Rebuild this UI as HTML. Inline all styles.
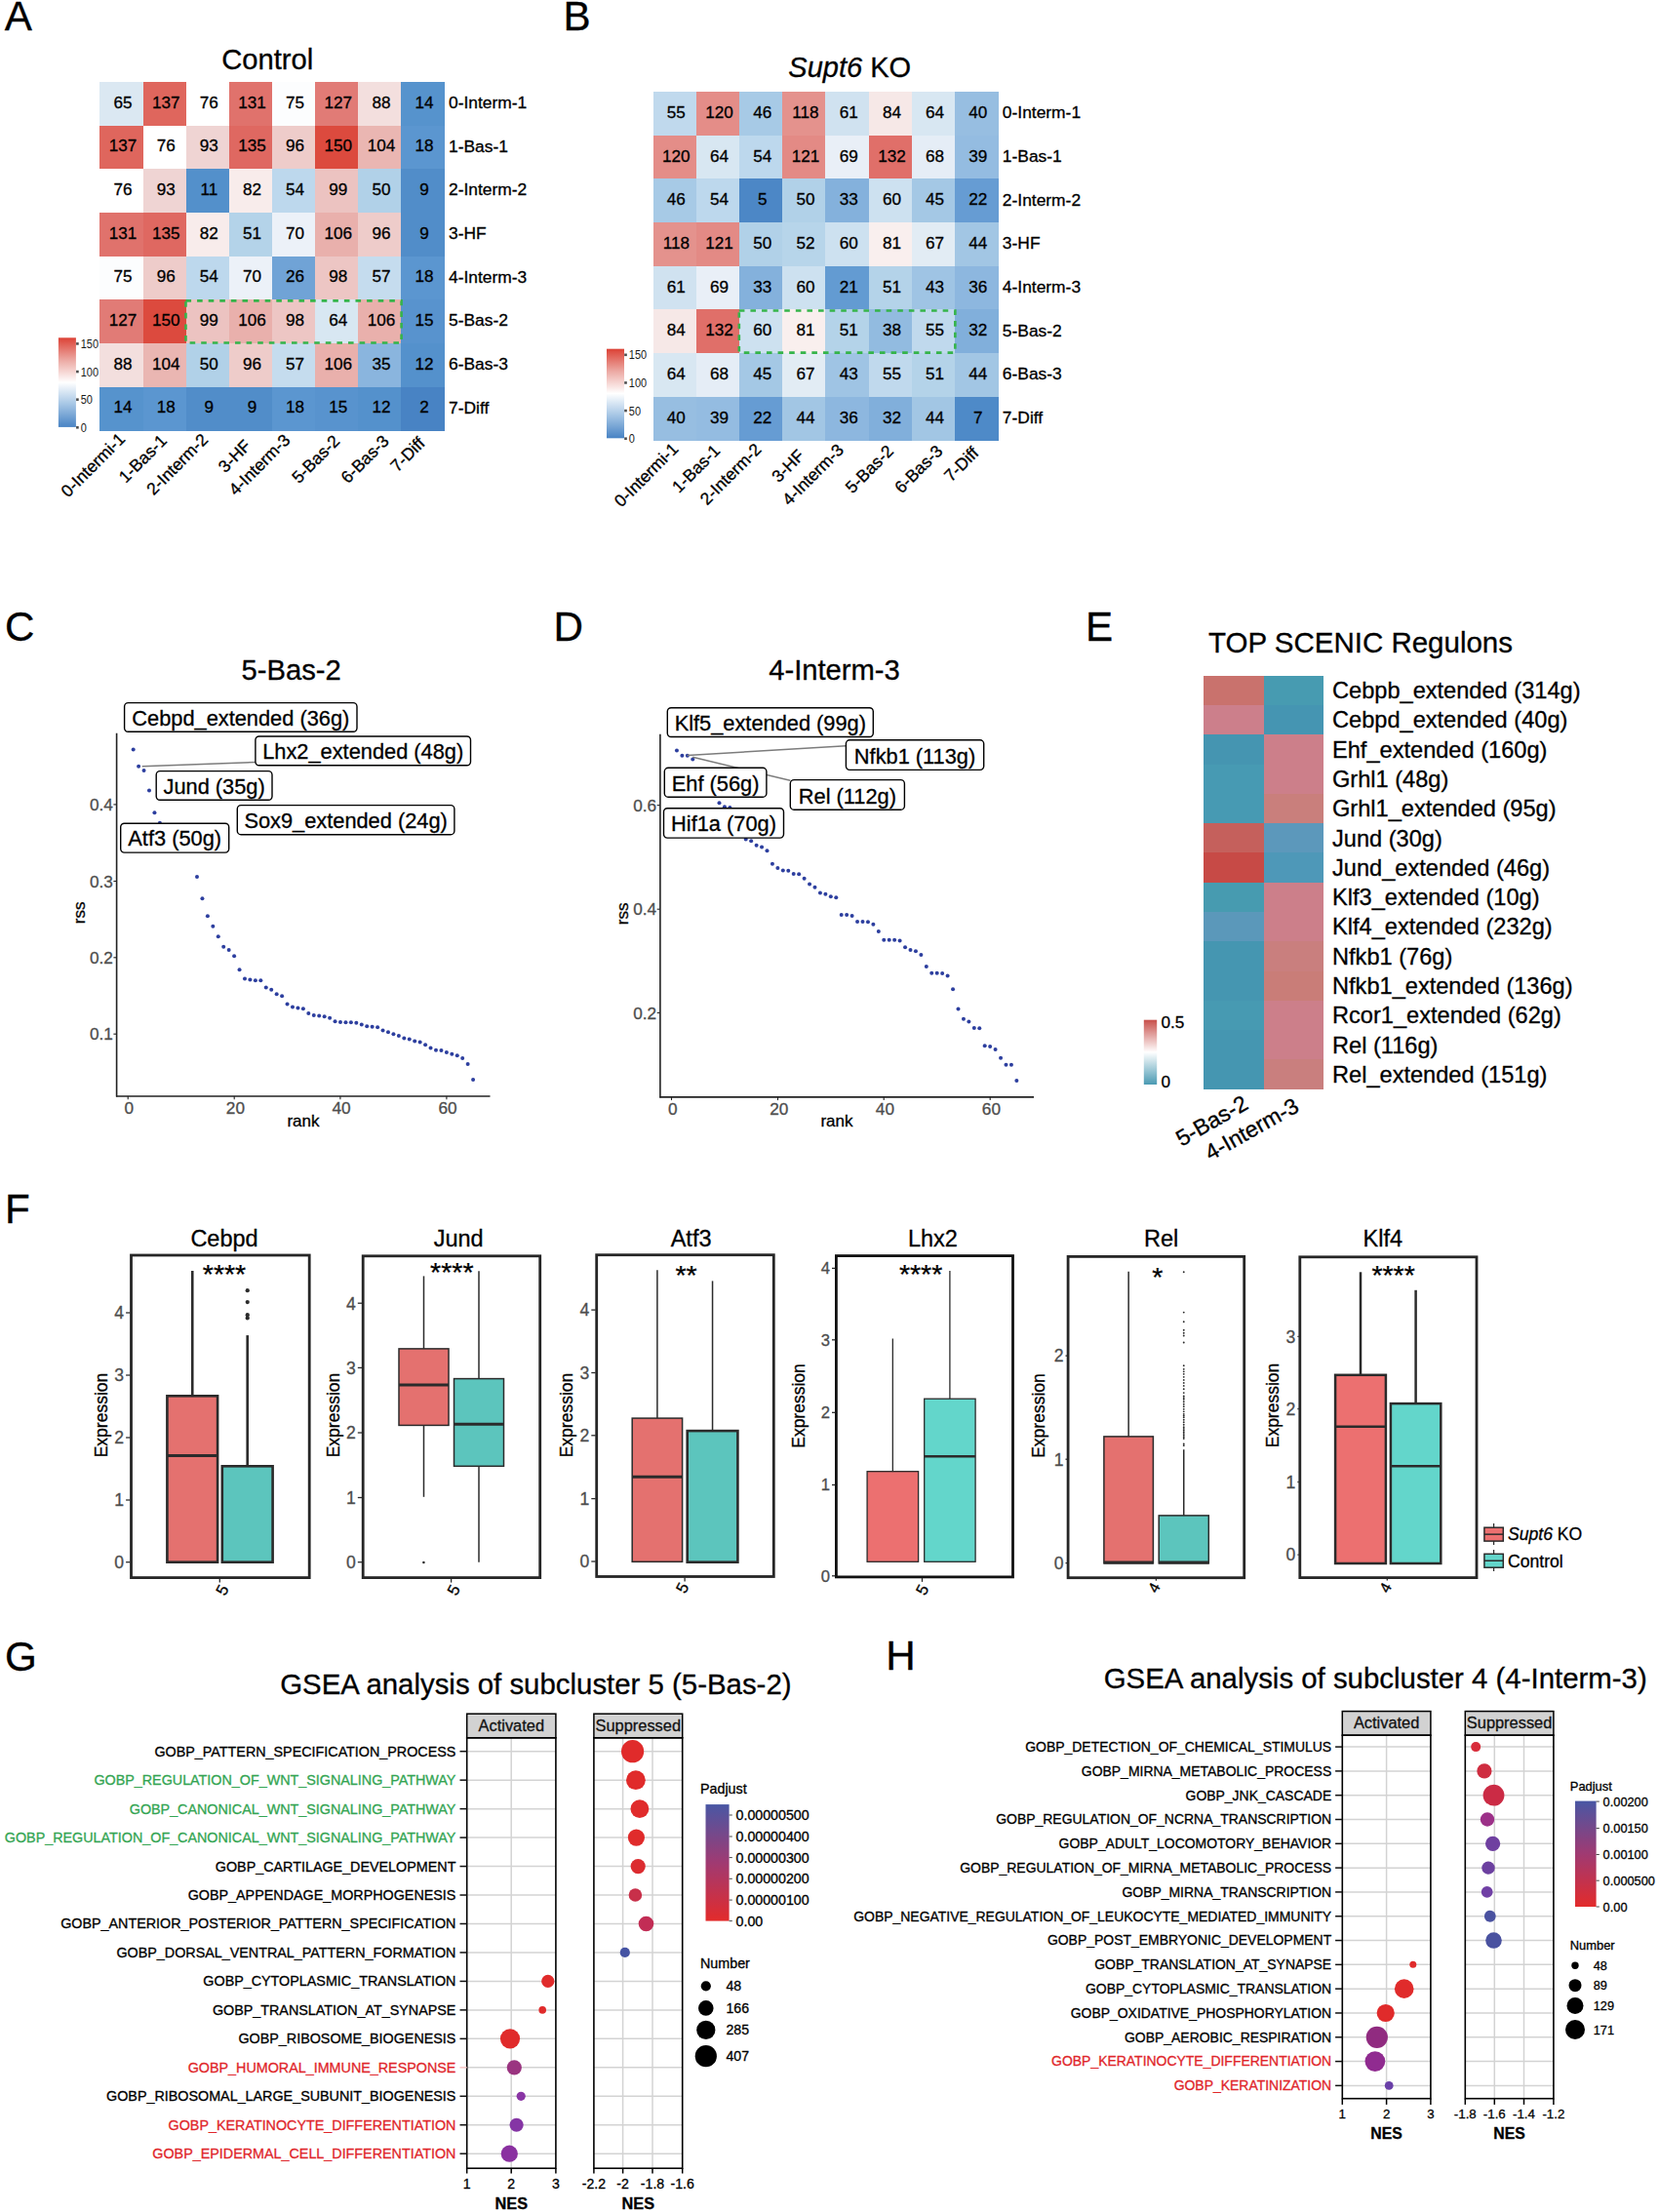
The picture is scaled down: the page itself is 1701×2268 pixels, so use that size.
<!DOCTYPE html>
<html><head><meta charset="utf-8"><title>Figure</title>
<style>html,body{margin:0;padding:0;background:#fff}svg{display:block}text{font-family:"Liberation Sans",Arial,sans-serif}</style>
</head><body>
<svg width="1701" height="2268" viewBox="0 0 1701 2268">
<rect width="1701" height="2268" fill="#fff"/>
<g shape-rendering="crispEdges">
<rect x="102.4" y="83.9" width="44.64" height="45.17" fill="#dbe8f2"/>
<rect x="146.54" y="83.9" width="44.64" height="45.17" fill="#df665d"/>
<rect x="190.68" y="83.9" width="44.64" height="45.17" fill="#ffffff"/>
<rect x="234.82" y="83.9" width="44.64" height="45.17" fill="#e0726c"/>
<rect x="278.96" y="83.9" width="44.64" height="45.17" fill="#fcfdfe"/>
<rect x="323.1" y="83.9" width="44.64" height="45.17" fill="#e17b76"/>
<rect x="367.24" y="83.9" width="44.64" height="45.17" fill="#f3dfde"/>
<rect x="411.38" y="83.9" width="44.64" height="45.17" fill="#5693cd"/>
<rect x="102.4" y="128.57" width="44.64" height="45.17" fill="#df665d"/>
<rect x="146.54" y="128.57" width="44.64" height="45.17" fill="#ffffff"/>
<rect x="190.68" y="128.57" width="44.64" height="45.17" fill="#efd4d3"/>
<rect x="234.82" y="128.57" width="44.64" height="45.17" fill="#df6861"/>
<rect x="278.96" y="128.57" width="44.64" height="45.17" fill="#eeccca"/>
<rect x="323.1" y="128.57" width="44.64" height="45.17" fill="#dc4a3e"/>
<rect x="367.24" y="128.57" width="44.64" height="45.17" fill="#eab6b2"/>
<rect x="411.38" y="128.57" width="44.64" height="45.17" fill="#5b96d0"/>
<rect x="102.4" y="173.24" width="44.64" height="45.17" fill="#ffffff"/>
<rect x="146.54" y="173.24" width="44.64" height="45.17" fill="#efd4d3"/>
<rect x="190.68" y="173.24" width="44.64" height="45.17" fill="#5390cb"/>
<rect x="234.82" y="173.24" width="44.64" height="45.17" fill="#f8eceb"/>
<rect x="278.96" y="173.24" width="44.64" height="45.17" fill="#bdd8ed"/>
<rect x="323.1" y="173.24" width="44.64" height="45.17" fill="#ecc3c1"/>
<rect x="367.24" y="173.24" width="44.64" height="45.17" fill="#b1d1e8"/>
<rect x="411.38" y="173.24" width="44.64" height="45.17" fill="#518dc9"/>
<rect x="102.4" y="217.91" width="44.64" height="45.17" fill="#e0726c"/>
<rect x="146.54" y="217.91" width="44.64" height="45.17" fill="#df6861"/>
<rect x="190.68" y="217.91" width="44.64" height="45.17" fill="#f8eceb"/>
<rect x="234.82" y="217.91" width="44.64" height="45.17" fill="#b4d3e9"/>
<rect x="278.96" y="217.91" width="44.64" height="45.17" fill="#ecf1f8"/>
<rect x="323.1" y="217.91" width="44.64" height="45.17" fill="#e9b0ac"/>
<rect x="367.24" y="217.91" width="44.64" height="45.17" fill="#eeccca"/>
<rect x="411.38" y="217.91" width="44.64" height="45.17" fill="#518dc9"/>
<rect x="102.4" y="262.58" width="44.64" height="45.17" fill="#fcfdfe"/>
<rect x="146.54" y="262.58" width="44.64" height="45.17" fill="#eeccca"/>
<rect x="190.68" y="262.58" width="44.64" height="45.17" fill="#bdd8ed"/>
<rect x="234.82" y="262.58" width="44.64" height="45.17" fill="#ecf1f8"/>
<rect x="278.96" y="262.58" width="44.64" height="45.17" fill="#70a3d6"/>
<rect x="323.1" y="262.58" width="44.64" height="45.17" fill="#edc6c4"/>
<rect x="367.24" y="262.58" width="44.64" height="45.17" fill="#c5dcee"/>
<rect x="411.38" y="262.58" width="44.64" height="45.17" fill="#5b96d0"/>
<rect x="102.4" y="307.25" width="44.64" height="45.17" fill="#e17b76"/>
<rect x="146.54" y="307.25" width="44.64" height="45.17" fill="#dc4a3e"/>
<rect x="190.68" y="307.25" width="44.64" height="45.17" fill="#ecc3c1"/>
<rect x="234.82" y="307.25" width="44.64" height="45.17" fill="#e9b0ac"/>
<rect x="278.96" y="307.25" width="44.64" height="45.17" fill="#edc6c4"/>
<rect x="323.1" y="307.25" width="44.64" height="45.17" fill="#d8e7f2"/>
<rect x="367.24" y="307.25" width="44.64" height="45.17" fill="#e9b0ac"/>
<rect x="411.38" y="307.25" width="44.64" height="45.17" fill="#5893ce"/>
<rect x="102.4" y="351.92" width="44.64" height="45.17" fill="#f3dfde"/>
<rect x="146.54" y="351.92" width="44.64" height="45.17" fill="#eab6b2"/>
<rect x="190.68" y="351.92" width="44.64" height="45.17" fill="#b1d1e8"/>
<rect x="234.82" y="351.92" width="44.64" height="45.17" fill="#eeccca"/>
<rect x="278.96" y="351.92" width="44.64" height="45.17" fill="#c5dcee"/>
<rect x="323.1" y="351.92" width="44.64" height="45.17" fill="#e9b0ac"/>
<rect x="367.24" y="351.92" width="44.64" height="45.17" fill="#8ab5de"/>
<rect x="411.38" y="351.92" width="44.64" height="45.17" fill="#5491cc"/>
<rect x="102.4" y="396.59" width="44.64" height="45.17" fill="#5693cd"/>
<rect x="146.54" y="396.59" width="44.64" height="45.17" fill="#5b96d0"/>
<rect x="190.68" y="396.59" width="44.64" height="45.17" fill="#518dc9"/>
<rect x="234.82" y="396.59" width="44.64" height="45.17" fill="#518dc9"/>
<rect x="278.96" y="396.59" width="44.64" height="45.17" fill="#5b96d0"/>
<rect x="323.1" y="396.59" width="44.64" height="45.17" fill="#5893ce"/>
<rect x="367.24" y="396.59" width="44.64" height="45.17" fill="#5491cc"/>
<rect x="411.38" y="396.59" width="44.64" height="45.17" fill="#4883c4"/>
</g>
<text x="126.07" y="110.74" font-size="17.1" text-anchor="middle" stroke="#000" stroke-width="0.3">65</text>
<text x="170.21" y="110.74" font-size="17.1" text-anchor="middle" stroke="#000" stroke-width="0.3">137</text>
<text x="214.35" y="110.74" font-size="17.1" text-anchor="middle" stroke="#000" stroke-width="0.3">76</text>
<text x="258.49" y="110.74" font-size="17.1" text-anchor="middle" stroke="#000" stroke-width="0.3">131</text>
<text x="302.63" y="110.74" font-size="17.1" text-anchor="middle" stroke="#000" stroke-width="0.3">75</text>
<text x="346.77" y="110.74" font-size="17.1" text-anchor="middle" stroke="#000" stroke-width="0.3">127</text>
<text x="390.91" y="110.74" font-size="17.1" text-anchor="middle" stroke="#000" stroke-width="0.3">88</text>
<text x="435.05" y="110.74" font-size="17.1" text-anchor="middle" stroke="#000" stroke-width="0.3">14</text>
<text x="126.07" y="155.41" font-size="17.1" text-anchor="middle" stroke="#000" stroke-width="0.3">137</text>
<text x="170.21" y="155.41" font-size="17.1" text-anchor="middle" stroke="#000" stroke-width="0.3">76</text>
<text x="214.35" y="155.41" font-size="17.1" text-anchor="middle" stroke="#000" stroke-width="0.3">93</text>
<text x="258.49" y="155.41" font-size="17.1" text-anchor="middle" stroke="#000" stroke-width="0.3">135</text>
<text x="302.63" y="155.41" font-size="17.1" text-anchor="middle" stroke="#000" stroke-width="0.3">96</text>
<text x="346.77" y="155.41" font-size="17.1" text-anchor="middle" stroke="#000" stroke-width="0.3">150</text>
<text x="390.91" y="155.41" font-size="17.1" text-anchor="middle" stroke="#000" stroke-width="0.3">104</text>
<text x="435.05" y="155.41" font-size="17.1" text-anchor="middle" stroke="#000" stroke-width="0.3">18</text>
<text x="126.07" y="200.08" font-size="17.1" text-anchor="middle" stroke="#000" stroke-width="0.3">76</text>
<text x="170.21" y="200.08" font-size="17.1" text-anchor="middle" stroke="#000" stroke-width="0.3">93</text>
<text x="214.35" y="200.08" font-size="17.1" text-anchor="middle" stroke="#000" stroke-width="0.3">11</text>
<text x="258.49" y="200.08" font-size="17.1" text-anchor="middle" stroke="#000" stroke-width="0.3">82</text>
<text x="302.63" y="200.08" font-size="17.1" text-anchor="middle" stroke="#000" stroke-width="0.3">54</text>
<text x="346.77" y="200.08" font-size="17.1" text-anchor="middle" stroke="#000" stroke-width="0.3">99</text>
<text x="390.91" y="200.08" font-size="17.1" text-anchor="middle" stroke="#000" stroke-width="0.3">50</text>
<text x="435.05" y="200.08" font-size="17.1" text-anchor="middle" stroke="#000" stroke-width="0.3">9</text>
<text x="126.07" y="244.75" font-size="17.1" text-anchor="middle" stroke="#000" stroke-width="0.3">131</text>
<text x="170.21" y="244.75" font-size="17.1" text-anchor="middle" stroke="#000" stroke-width="0.3">135</text>
<text x="214.35" y="244.75" font-size="17.1" text-anchor="middle" stroke="#000" stroke-width="0.3">82</text>
<text x="258.49" y="244.75" font-size="17.1" text-anchor="middle" stroke="#000" stroke-width="0.3">51</text>
<text x="302.63" y="244.75" font-size="17.1" text-anchor="middle" stroke="#000" stroke-width="0.3">70</text>
<text x="346.77" y="244.75" font-size="17.1" text-anchor="middle" stroke="#000" stroke-width="0.3">106</text>
<text x="390.91" y="244.75" font-size="17.1" text-anchor="middle" stroke="#000" stroke-width="0.3">96</text>
<text x="435.05" y="244.75" font-size="17.1" text-anchor="middle" stroke="#000" stroke-width="0.3">9</text>
<text x="126.07" y="289.42" font-size="17.1" text-anchor="middle" stroke="#000" stroke-width="0.3">75</text>
<text x="170.21" y="289.42" font-size="17.1" text-anchor="middle" stroke="#000" stroke-width="0.3">96</text>
<text x="214.35" y="289.42" font-size="17.1" text-anchor="middle" stroke="#000" stroke-width="0.3">54</text>
<text x="258.49" y="289.42" font-size="17.1" text-anchor="middle" stroke="#000" stroke-width="0.3">70</text>
<text x="302.63" y="289.42" font-size="17.1" text-anchor="middle" stroke="#000" stroke-width="0.3">26</text>
<text x="346.77" y="289.42" font-size="17.1" text-anchor="middle" stroke="#000" stroke-width="0.3">98</text>
<text x="390.91" y="289.42" font-size="17.1" text-anchor="middle" stroke="#000" stroke-width="0.3">57</text>
<text x="435.05" y="289.42" font-size="17.1" text-anchor="middle" stroke="#000" stroke-width="0.3">18</text>
<text x="126.07" y="334.09" font-size="17.1" text-anchor="middle" stroke="#000" stroke-width="0.3">127</text>
<text x="170.21" y="334.09" font-size="17.1" text-anchor="middle" stroke="#000" stroke-width="0.3">150</text>
<text x="214.35" y="334.09" font-size="17.1" text-anchor="middle" stroke="#000" stroke-width="0.3">99</text>
<text x="258.49" y="334.09" font-size="17.1" text-anchor="middle" stroke="#000" stroke-width="0.3">106</text>
<text x="302.63" y="334.09" font-size="17.1" text-anchor="middle" stroke="#000" stroke-width="0.3">98</text>
<text x="346.77" y="334.09" font-size="17.1" text-anchor="middle" stroke="#000" stroke-width="0.3">64</text>
<text x="390.91" y="334.09" font-size="17.1" text-anchor="middle" stroke="#000" stroke-width="0.3">106</text>
<text x="435.05" y="334.09" font-size="17.1" text-anchor="middle" stroke="#000" stroke-width="0.3">15</text>
<text x="126.07" y="378.75" font-size="17.1" text-anchor="middle" stroke="#000" stroke-width="0.3">88</text>
<text x="170.21" y="378.75" font-size="17.1" text-anchor="middle" stroke="#000" stroke-width="0.3">104</text>
<text x="214.35" y="378.75" font-size="17.1" text-anchor="middle" stroke="#000" stroke-width="0.3">50</text>
<text x="258.49" y="378.75" font-size="17.1" text-anchor="middle" stroke="#000" stroke-width="0.3">96</text>
<text x="302.63" y="378.75" font-size="17.1" text-anchor="middle" stroke="#000" stroke-width="0.3">57</text>
<text x="346.77" y="378.75" font-size="17.1" text-anchor="middle" stroke="#000" stroke-width="0.3">106</text>
<text x="390.91" y="378.75" font-size="17.1" text-anchor="middle" stroke="#000" stroke-width="0.3">35</text>
<text x="435.05" y="378.75" font-size="17.1" text-anchor="middle" stroke="#000" stroke-width="0.3">12</text>
<text x="126.07" y="423.43" font-size="17.1" text-anchor="middle" stroke="#000" stroke-width="0.3">14</text>
<text x="170.21" y="423.43" font-size="17.1" text-anchor="middle" stroke="#000" stroke-width="0.3">18</text>
<text x="214.35" y="423.43" font-size="17.1" text-anchor="middle" stroke="#000" stroke-width="0.3">9</text>
<text x="258.49" y="423.43" font-size="17.1" text-anchor="middle" stroke="#000" stroke-width="0.3">9</text>
<text x="302.63" y="423.43" font-size="17.1" text-anchor="middle" stroke="#000" stroke-width="0.3">18</text>
<text x="346.77" y="423.43" font-size="17.1" text-anchor="middle" stroke="#000" stroke-width="0.3">15</text>
<text x="390.91" y="423.43" font-size="17.1" text-anchor="middle" stroke="#000" stroke-width="0.3">12</text>
<text x="435.05" y="423.43" font-size="17.1" text-anchor="middle" stroke="#000" stroke-width="0.3">2</text>
<text x="460.02" y="111.04" font-size="17.4" stroke="#000" stroke-width="0.3">0-Interm-1</text>
<text x="460.02" y="155.71" font-size="17.4" stroke="#000" stroke-width="0.3">1-Bas-1</text>
<text x="460.02" y="200.38" font-size="17.4" stroke="#000" stroke-width="0.3">2-Interm-2</text>
<text x="460.02" y="245.05" font-size="17.4" stroke="#000" stroke-width="0.3">3-HF</text>
<text x="460.02" y="289.72" font-size="17.4" stroke="#000" stroke-width="0.3">4-Interm-3</text>
<text x="460.02" y="334.39" font-size="17.4" stroke="#000" stroke-width="0.3">5-Bas-2</text>
<text x="460.02" y="379.06" font-size="17.4" stroke="#000" stroke-width="0.3">6-Bas-3</text>
<text x="460.02" y="423.73" font-size="17.4" stroke="#000" stroke-width="0.3">7-Diff</text>
<text x="129.27" y="451.26" font-size="17.4" text-anchor="end" transform="rotate(-45 129.27 451.26)" stroke="#000" stroke-width="0.3">0-Intermi-1</text>
<text x="172.01" y="452.96" font-size="17.4" text-anchor="end" transform="rotate(-45 172.01 452.96)" stroke="#000" stroke-width="0.3">1-Bas-1</text>
<text x="214.25" y="451.86" font-size="17.4" text-anchor="end" transform="rotate(-45 214.25 451.86)" stroke="#000" stroke-width="0.3">2-Interm-2</text>
<text x="258.39" y="458.16" font-size="17.4" text-anchor="end" transform="rotate(-45 258.39 458.16)" stroke="#000" stroke-width="0.3">3-HF</text>
<text x="298.53" y="452.36" font-size="17.4" text-anchor="end" transform="rotate(-45 298.53 452.36)" stroke="#000" stroke-width="0.3">4-Interm-3</text>
<text x="349.47" y="453.46" font-size="17.4" text-anchor="end" transform="rotate(-45 349.47 453.46)" stroke="#000" stroke-width="0.3">5-Bas-2</text>
<text x="399.81" y="453.46" font-size="17.4" text-anchor="end" transform="rotate(-45 399.81 453.46)" stroke="#000" stroke-width="0.3">6-Bas-3</text>
<text x="436.65" y="455.56" font-size="17.4" text-anchor="end" transform="rotate(-45 436.65 455.56)" stroke="#000" stroke-width="0.3">7-Diff</text>
<rect x="190.48" y="308.4" width="221.1" height="43.12" fill="none" stroke="#35b44a" stroke-width="2.6" stroke-dasharray="5.6 6"/>
<defs><linearGradient id="cb102" x1="0" y1="1" x2="0" y2="0"><stop offset="0" stop-color="#4883c4"/><stop offset="0.25" stop-color="#a3c4e4"/><stop offset="0.5" stop-color="#fff"/><stop offset="0.75" stop-color="#eca9a3"/><stop offset="1" stop-color="#dc4236"/></linearGradient></defs>
<rect x="59.9" y="346.3" width="18" height="91.6" fill="url(#cb102)"/>
<rect x="78.1" y="437" width="2.6" height="2.6" fill="#4a4a4a"/>
<g transform="translate(82.7 442.8) scale(0.87 1)"><text x="0" y="0" font-size="12.6" fill="#1a1a1a">0</text></g>
<rect x="78.1" y="408.37" width="2.6" height="2.6" fill="#4a4a4a"/>
<g transform="translate(82.7 414.17) scale(0.87 1)"><text x="0" y="0" font-size="12.6" fill="#1a1a1a">50</text></g>
<rect x="78.1" y="379.75" width="2.6" height="2.6" fill="#4a4a4a"/>
<g transform="translate(82.7 385.55) scale(0.87 1)"><text x="0" y="0" font-size="12.6" fill="#1a1a1a">100</text></g>
<rect x="78.1" y="351.12" width="2.6" height="2.6" fill="#4a4a4a"/>
<g transform="translate(82.7 356.92) scale(0.87 1)"><text x="0" y="0" font-size="12.6" fill="#1a1a1a">150</text></g>
<g shape-rendering="crispEdges">
<rect x="669.6" y="94.1" width="44.72" height="45.16" fill="#c0d9ed"/>
<rect x="713.82" y="94.1" width="44.72" height="45.16" fill="#e48d88"/>
<rect x="758.04" y="94.1" width="44.72" height="45.16" fill="#a7cae6"/>
<rect x="802.26" y="94.1" width="44.72" height="45.16" fill="#e4928d"/>
<rect x="846.48" y="94.1" width="44.72" height="45.16" fill="#d0e2f0"/>
<rect x="890.7" y="94.1" width="44.72" height="45.16" fill="#f6e8e7"/>
<rect x="934.92" y="94.1" width="44.72" height="45.16" fill="#d8e7f2"/>
<rect x="979.14" y="94.1" width="44.72" height="45.16" fill="#97bee1"/>
<rect x="669.6" y="138.76" width="44.72" height="45.16" fill="#e48d88"/>
<rect x="713.82" y="138.76" width="44.72" height="45.16" fill="#d8e7f2"/>
<rect x="758.04" y="138.76" width="44.72" height="45.16" fill="#bdd8ed"/>
<rect x="802.26" y="138.76" width="44.72" height="45.16" fill="#e38a85"/>
<rect x="846.48" y="138.76" width="44.72" height="45.16" fill="#e9eff7"/>
<rect x="890.7" y="138.76" width="44.72" height="45.16" fill="#e06f69"/>
<rect x="934.92" y="138.76" width="44.72" height="45.16" fill="#e5edf6"/>
<rect x="979.14" y="138.76" width="44.72" height="45.16" fill="#94bce1"/>
<rect x="669.6" y="183.42" width="44.72" height="45.16" fill="#a7cae6"/>
<rect x="713.82" y="183.42" width="44.72" height="45.16" fill="#bdd8ed"/>
<rect x="758.04" y="183.42" width="44.72" height="45.16" fill="#4c87c6"/>
<rect x="802.26" y="183.42" width="44.72" height="45.16" fill="#b1d1e8"/>
<rect x="846.48" y="183.42" width="44.72" height="45.16" fill="#84b1dc"/>
<rect x="890.7" y="183.42" width="44.72" height="45.16" fill="#cde1f0"/>
<rect x="934.92" y="183.42" width="44.72" height="45.16" fill="#a4c8e5"/>
<rect x="979.14" y="183.42" width="44.72" height="45.16" fill="#669cd3"/>
<rect x="669.6" y="228.08" width="44.72" height="45.16" fill="#e4928d"/>
<rect x="713.82" y="228.08" width="44.72" height="45.16" fill="#e38a85"/>
<rect x="758.04" y="228.08" width="44.72" height="45.16" fill="#b1d1e8"/>
<rect x="802.26" y="228.08" width="44.72" height="45.16" fill="#b7d5ea"/>
<rect x="846.48" y="228.08" width="44.72" height="45.16" fill="#cde1f0"/>
<rect x="890.7" y="228.08" width="44.72" height="45.16" fill="#f9efee"/>
<rect x="934.92" y="228.08" width="44.72" height="45.16" fill="#e2ecf4"/>
<rect x="979.14" y="228.08" width="44.72" height="45.16" fill="#a2c6e4"/>
<rect x="669.6" y="272.74" width="44.72" height="45.16" fill="#d0e2f0"/>
<rect x="713.82" y="272.74" width="44.72" height="45.16" fill="#e9eff7"/>
<rect x="758.04" y="272.74" width="44.72" height="45.16" fill="#84b1dc"/>
<rect x="802.26" y="272.74" width="44.72" height="45.16" fill="#cde1f0"/>
<rect x="846.48" y="272.74" width="44.72" height="45.16" fill="#639bd2"/>
<rect x="890.7" y="272.74" width="44.72" height="45.16" fill="#b4d3e9"/>
<rect x="934.92" y="272.74" width="44.72" height="45.16" fill="#9fc4e4"/>
<rect x="979.14" y="272.74" width="44.72" height="45.16" fill="#8db7df"/>
<rect x="669.6" y="317.4" width="44.72" height="45.16" fill="#f6e8e7"/>
<rect x="713.82" y="317.4" width="44.72" height="45.16" fill="#e06f69"/>
<rect x="758.04" y="317.4" width="44.72" height="45.16" fill="#cde1f0"/>
<rect x="802.26" y="317.4" width="44.72" height="45.16" fill="#f9efee"/>
<rect x="846.48" y="317.4" width="44.72" height="45.16" fill="#b4d3e9"/>
<rect x="890.7" y="317.4" width="44.72" height="45.16" fill="#92bbe0"/>
<rect x="934.92" y="317.4" width="44.72" height="45.16" fill="#c0d9ed"/>
<rect x="979.14" y="317.4" width="44.72" height="45.16" fill="#81afdb"/>
<rect x="669.6" y="362.06" width="44.72" height="45.16" fill="#d8e7f2"/>
<rect x="713.82" y="362.06" width="44.72" height="45.16" fill="#e5edf6"/>
<rect x="758.04" y="362.06" width="44.72" height="45.16" fill="#a4c8e5"/>
<rect x="802.26" y="362.06" width="44.72" height="45.16" fill="#e2ecf4"/>
<rect x="846.48" y="362.06" width="44.72" height="45.16" fill="#9fc4e4"/>
<rect x="890.7" y="362.06" width="44.72" height="45.16" fill="#c0d9ed"/>
<rect x="934.92" y="362.06" width="44.72" height="45.16" fill="#b4d3e9"/>
<rect x="979.14" y="362.06" width="44.72" height="45.16" fill="#a2c6e4"/>
<rect x="669.6" y="406.72" width="44.72" height="45.16" fill="#97bee1"/>
<rect x="713.82" y="406.72" width="44.72" height="45.16" fill="#94bce1"/>
<rect x="758.04" y="406.72" width="44.72" height="45.16" fill="#669cd3"/>
<rect x="802.26" y="406.72" width="44.72" height="45.16" fill="#a2c6e4"/>
<rect x="846.48" y="406.72" width="44.72" height="45.16" fill="#8db7df"/>
<rect x="890.7" y="406.72" width="44.72" height="45.16" fill="#81afdb"/>
<rect x="934.92" y="406.72" width="44.72" height="45.16" fill="#a2c6e4"/>
<rect x="979.14" y="406.72" width="44.72" height="45.16" fill="#4e8ac8"/>
</g>
<text x="693.31" y="120.93" font-size="17.1" text-anchor="middle" stroke="#000" stroke-width="0.3">55</text>
<text x="737.53" y="120.93" font-size="17.1" text-anchor="middle" stroke="#000" stroke-width="0.3">120</text>
<text x="781.75" y="120.93" font-size="17.1" text-anchor="middle" stroke="#000" stroke-width="0.3">46</text>
<text x="825.97" y="120.93" font-size="17.1" text-anchor="middle" stroke="#000" stroke-width="0.3">118</text>
<text x="870.19" y="120.93" font-size="17.1" text-anchor="middle" stroke="#000" stroke-width="0.3">61</text>
<text x="914.41" y="120.93" font-size="17.1" text-anchor="middle" stroke="#000" stroke-width="0.3">84</text>
<text x="958.63" y="120.93" font-size="17.1" text-anchor="middle" stroke="#000" stroke-width="0.3">64</text>
<text x="1002.85" y="120.93" font-size="17.1" text-anchor="middle" stroke="#000" stroke-width="0.3">40</text>
<text x="693.31" y="165.59" font-size="17.1" text-anchor="middle" stroke="#000" stroke-width="0.3">120</text>
<text x="737.53" y="165.59" font-size="17.1" text-anchor="middle" stroke="#000" stroke-width="0.3">64</text>
<text x="781.75" y="165.59" font-size="17.1" text-anchor="middle" stroke="#000" stroke-width="0.3">54</text>
<text x="825.97" y="165.59" font-size="17.1" text-anchor="middle" stroke="#000" stroke-width="0.3">121</text>
<text x="870.19" y="165.59" font-size="17.1" text-anchor="middle" stroke="#000" stroke-width="0.3">69</text>
<text x="914.41" y="165.59" font-size="17.1" text-anchor="middle" stroke="#000" stroke-width="0.3">132</text>
<text x="958.63" y="165.59" font-size="17.1" text-anchor="middle" stroke="#000" stroke-width="0.3">68</text>
<text x="1002.85" y="165.59" font-size="17.1" text-anchor="middle" stroke="#000" stroke-width="0.3">39</text>
<text x="693.31" y="210.25" font-size="17.1" text-anchor="middle" stroke="#000" stroke-width="0.3">46</text>
<text x="737.53" y="210.25" font-size="17.1" text-anchor="middle" stroke="#000" stroke-width="0.3">54</text>
<text x="781.75" y="210.25" font-size="17.1" text-anchor="middle" stroke="#000" stroke-width="0.3">5</text>
<text x="825.97" y="210.25" font-size="17.1" text-anchor="middle" stroke="#000" stroke-width="0.3">50</text>
<text x="870.19" y="210.25" font-size="17.1" text-anchor="middle" stroke="#000" stroke-width="0.3">33</text>
<text x="914.41" y="210.25" font-size="17.1" text-anchor="middle" stroke="#000" stroke-width="0.3">60</text>
<text x="958.63" y="210.25" font-size="17.1" text-anchor="middle" stroke="#000" stroke-width="0.3">45</text>
<text x="1002.85" y="210.25" font-size="17.1" text-anchor="middle" stroke="#000" stroke-width="0.3">22</text>
<text x="693.31" y="254.91" font-size="17.1" text-anchor="middle" stroke="#000" stroke-width="0.3">118</text>
<text x="737.53" y="254.91" font-size="17.1" text-anchor="middle" stroke="#000" stroke-width="0.3">121</text>
<text x="781.75" y="254.91" font-size="17.1" text-anchor="middle" stroke="#000" stroke-width="0.3">50</text>
<text x="825.97" y="254.91" font-size="17.1" text-anchor="middle" stroke="#000" stroke-width="0.3">52</text>
<text x="870.19" y="254.91" font-size="17.1" text-anchor="middle" stroke="#000" stroke-width="0.3">60</text>
<text x="914.41" y="254.91" font-size="17.1" text-anchor="middle" stroke="#000" stroke-width="0.3">81</text>
<text x="958.63" y="254.91" font-size="17.1" text-anchor="middle" stroke="#000" stroke-width="0.3">67</text>
<text x="1002.85" y="254.91" font-size="17.1" text-anchor="middle" stroke="#000" stroke-width="0.3">44</text>
<text x="693.31" y="299.57" font-size="17.1" text-anchor="middle" stroke="#000" stroke-width="0.3">61</text>
<text x="737.53" y="299.57" font-size="17.1" text-anchor="middle" stroke="#000" stroke-width="0.3">69</text>
<text x="781.75" y="299.57" font-size="17.1" text-anchor="middle" stroke="#000" stroke-width="0.3">33</text>
<text x="825.97" y="299.57" font-size="17.1" text-anchor="middle" stroke="#000" stroke-width="0.3">60</text>
<text x="870.19" y="299.57" font-size="17.1" text-anchor="middle" stroke="#000" stroke-width="0.3">21</text>
<text x="914.41" y="299.57" font-size="17.1" text-anchor="middle" stroke="#000" stroke-width="0.3">51</text>
<text x="958.63" y="299.57" font-size="17.1" text-anchor="middle" stroke="#000" stroke-width="0.3">43</text>
<text x="1002.85" y="299.57" font-size="17.1" text-anchor="middle" stroke="#000" stroke-width="0.3">36</text>
<text x="693.31" y="344.23" font-size="17.1" text-anchor="middle" stroke="#000" stroke-width="0.3">84</text>
<text x="737.53" y="344.23" font-size="17.1" text-anchor="middle" stroke="#000" stroke-width="0.3">132</text>
<text x="781.75" y="344.23" font-size="17.1" text-anchor="middle" stroke="#000" stroke-width="0.3">60</text>
<text x="825.97" y="344.23" font-size="17.1" text-anchor="middle" stroke="#000" stroke-width="0.3">81</text>
<text x="870.19" y="344.23" font-size="17.1" text-anchor="middle" stroke="#000" stroke-width="0.3">51</text>
<text x="914.41" y="344.23" font-size="17.1" text-anchor="middle" stroke="#000" stroke-width="0.3">38</text>
<text x="958.63" y="344.23" font-size="17.1" text-anchor="middle" stroke="#000" stroke-width="0.3">55</text>
<text x="1002.85" y="344.23" font-size="17.1" text-anchor="middle" stroke="#000" stroke-width="0.3">32</text>
<text x="693.31" y="388.89" font-size="17.1" text-anchor="middle" stroke="#000" stroke-width="0.3">64</text>
<text x="737.53" y="388.89" font-size="17.1" text-anchor="middle" stroke="#000" stroke-width="0.3">68</text>
<text x="781.75" y="388.89" font-size="17.1" text-anchor="middle" stroke="#000" stroke-width="0.3">45</text>
<text x="825.97" y="388.89" font-size="17.1" text-anchor="middle" stroke="#000" stroke-width="0.3">67</text>
<text x="870.19" y="388.89" font-size="17.1" text-anchor="middle" stroke="#000" stroke-width="0.3">43</text>
<text x="914.41" y="388.89" font-size="17.1" text-anchor="middle" stroke="#000" stroke-width="0.3">55</text>
<text x="958.63" y="388.89" font-size="17.1" text-anchor="middle" stroke="#000" stroke-width="0.3">51</text>
<text x="1002.85" y="388.89" font-size="17.1" text-anchor="middle" stroke="#000" stroke-width="0.3">44</text>
<text x="693.31" y="433.55" font-size="17.1" text-anchor="middle" stroke="#000" stroke-width="0.3">40</text>
<text x="737.53" y="433.55" font-size="17.1" text-anchor="middle" stroke="#000" stroke-width="0.3">39</text>
<text x="781.75" y="433.55" font-size="17.1" text-anchor="middle" stroke="#000" stroke-width="0.3">22</text>
<text x="825.97" y="433.55" font-size="17.1" text-anchor="middle" stroke="#000" stroke-width="0.3">44</text>
<text x="870.19" y="433.55" font-size="17.1" text-anchor="middle" stroke="#000" stroke-width="0.3">36</text>
<text x="914.41" y="433.55" font-size="17.1" text-anchor="middle" stroke="#000" stroke-width="0.3">32</text>
<text x="958.63" y="433.55" font-size="17.1" text-anchor="middle" stroke="#000" stroke-width="0.3">44</text>
<text x="1002.85" y="433.55" font-size="17.1" text-anchor="middle" stroke="#000" stroke-width="0.3">7</text>
<text x="1027.86" y="121.23" font-size="17.4" stroke="#000" stroke-width="0.3">0-Interm-1</text>
<text x="1027.86" y="165.89" font-size="17.4" stroke="#000" stroke-width="0.3">1-Bas-1</text>
<text x="1027.86" y="210.55" font-size="17.4" stroke="#000" stroke-width="0.3">2-Interm-2</text>
<text x="1027.86" y="255.21" font-size="17.4" stroke="#000" stroke-width="0.3">3-HF</text>
<text x="1027.86" y="299.87" font-size="17.4" stroke="#000" stroke-width="0.3">4-Interm-3</text>
<text x="1027.86" y="344.53" font-size="17.4" stroke="#000" stroke-width="0.3">5-Bas-2</text>
<text x="1027.86" y="389.19" font-size="17.4" stroke="#000" stroke-width="0.3">6-Bas-3</text>
<text x="1027.86" y="433.85" font-size="17.4" stroke="#000" stroke-width="0.3">7-Diff</text>
<text x="696.51" y="461.38" font-size="17.4" text-anchor="end" transform="rotate(-45 696.51 461.38)" stroke="#000" stroke-width="0.3">0-Intermi-1</text>
<text x="739.33" y="463.08" font-size="17.4" text-anchor="end" transform="rotate(-45 739.33 463.08)" stroke="#000" stroke-width="0.3">1-Bas-1</text>
<text x="781.65" y="461.98" font-size="17.4" text-anchor="end" transform="rotate(-45 781.65 461.98)" stroke="#000" stroke-width="0.3">2-Interm-2</text>
<text x="825.87" y="468.28" font-size="17.4" text-anchor="end" transform="rotate(-45 825.87 468.28)" stroke="#000" stroke-width="0.3">3-HF</text>
<text x="866.09" y="462.48" font-size="17.4" text-anchor="end" transform="rotate(-45 866.09 462.48)" stroke="#000" stroke-width="0.3">4-Interm-3</text>
<text x="917.11" y="463.58" font-size="17.4" text-anchor="end" transform="rotate(-45 917.11 463.58)" stroke="#000" stroke-width="0.3">5-Bas-2</text>
<text x="967.53" y="463.58" font-size="17.4" text-anchor="end" transform="rotate(-45 967.53 463.58)" stroke="#000" stroke-width="0.3">6-Bas-3</text>
<text x="1004.45" y="465.68" font-size="17.4" text-anchor="end" transform="rotate(-45 1004.45 465.68)" stroke="#000" stroke-width="0.3">7-Diff</text>
<rect x="757.84" y="318.55" width="221.5" height="43.11" fill="none" stroke="#35b44a" stroke-width="2.6" stroke-dasharray="5.6 6"/>
<defs><linearGradient id="cb669" x1="0" y1="1" x2="0" y2="0"><stop offset="0" stop-color="#4883c4"/><stop offset="0.25" stop-color="#a3c4e4"/><stop offset="0.5" stop-color="#fff"/><stop offset="0.75" stop-color="#eca9a3"/><stop offset="1" stop-color="#dc4236"/></linearGradient></defs>
<rect x="622" y="357.7" width="18" height="91.6" fill="url(#cb669)"/>
<rect x="640.2" y="448.4" width="2.6" height="2.6" fill="#4a4a4a"/>
<g transform="translate(644.8 454.2) scale(0.87 1)"><text x="0" y="0" font-size="12.6" fill="#1a1a1a">0</text></g>
<rect x="640.2" y="419.77" width="2.6" height="2.6" fill="#4a4a4a"/>
<g transform="translate(644.8 425.57) scale(0.87 1)"><text x="0" y="0" font-size="12.6" fill="#1a1a1a">50</text></g>
<rect x="640.2" y="391.15" width="2.6" height="2.6" fill="#4a4a4a"/>
<g transform="translate(644.8 396.95) scale(0.87 1)"><text x="0" y="0" font-size="12.6" fill="#1a1a1a">100</text></g>
<rect x="640.2" y="362.52" width="2.6" height="2.6" fill="#4a4a4a"/>
<g transform="translate(644.8 368.32) scale(0.87 1)"><text x="0" y="0" font-size="12.6" fill="#1a1a1a">150</text></g>
<text x="274.2" y="71.3" font-size="29.2" text-anchor="middle" stroke="#000" stroke-width="0.3">Control</text>
<text x="871.2" y="78.9" font-size="29" text-anchor="middle" stroke="#000" stroke-width="0.3"><tspan font-style="italic">Supt6</tspan> KO</text>
<text x="4.8" y="30.7" font-size="42.2" stroke="#000" stroke-width="0.3">A</text>
<text x="577.5" y="30.7" font-size="42.2" stroke="#000" stroke-width="0.3">B</text>
<text x="5" y="657.2" font-size="42.2" stroke="#000" stroke-width="0.3">C</text>
<text x="567.4" y="657" font-size="42.2" stroke="#000" stroke-width="0.3">D</text>
<text x="1113" y="657" font-size="42.2" stroke="#000" stroke-width="0.3">E</text>
<text x="5" y="1253.6" font-size="42.2" stroke="#000" stroke-width="0.3">F</text>
<text x="5.1" y="1712.6" font-size="42.2" stroke="#000" stroke-width="0.3">G</text>
<text x="908.3" y="1712" font-size="42.2" stroke="#000" stroke-width="0.3">H</text>
<circle cx="136.66" cy="768.45" r="2" fill="#2d3f9f"/>
<circle cx="142.11" cy="785.81" r="2" fill="#2d3f9f"/>
<circle cx="147.55" cy="789.91" r="2" fill="#2d3f9f"/>
<circle cx="152.99" cy="810.4" r="2" fill="#2d3f9f"/>
<circle cx="158.44" cy="833.31" r="2" fill="#2d3f9f"/>
<circle cx="163.88" cy="843.68" r="2" fill="#2d3f9f"/>
<circle cx="201.99" cy="898.89" r="2" fill="#2d3f9f"/>
<circle cx="207.44" cy="921.31" r="2" fill="#2d3f9f"/>
<circle cx="212.88" cy="939.16" r="2" fill="#2d3f9f"/>
<circle cx="218.33" cy="949.76" r="2" fill="#2d3f9f"/>
<circle cx="223.77" cy="960.37" r="2" fill="#2d3f9f"/>
<circle cx="229.21" cy="970.74" r="2" fill="#2d3f9f"/>
<circle cx="234.66" cy="974.12" r="2" fill="#2d3f9f"/>
<circle cx="240.1" cy="980.14" r="2" fill="#2d3f9f"/>
<circle cx="245.55" cy="994.37" r="2" fill="#2d3f9f"/>
<circle cx="250.99" cy="1003.53" r="2" fill="#2d3f9f"/>
<circle cx="256.44" cy="1004.5" r="2" fill="#2d3f9f"/>
<circle cx="261.88" cy="1005.22" r="2" fill="#2d3f9f"/>
<circle cx="267.32" cy="1005.22" r="2" fill="#2d3f9f"/>
<circle cx="272.77" cy="1012.45" r="2" fill="#2d3f9f"/>
<circle cx="278.21" cy="1014.86" r="2" fill="#2d3f9f"/>
<circle cx="283.66" cy="1019.2" r="2" fill="#2d3f9f"/>
<circle cx="289.1" cy="1021.13" r="2" fill="#2d3f9f"/>
<circle cx="294.54" cy="1029.57" r="2" fill="#2d3f9f"/>
<circle cx="299.99" cy="1032.47" r="2" fill="#2d3f9f"/>
<circle cx="305.43" cy="1033.43" r="2" fill="#2d3f9f"/>
<circle cx="310.88" cy="1034.15" r="2" fill="#2d3f9f"/>
<circle cx="316.32" cy="1038.98" r="2" fill="#2d3f9f"/>
<circle cx="321.77" cy="1040.9" r="2" fill="#2d3f9f"/>
<circle cx="327.21" cy="1041.39" r="2" fill="#2d3f9f"/>
<circle cx="332.65" cy="1042.35" r="2" fill="#2d3f9f"/>
<circle cx="338.1" cy="1043.8" r="2" fill="#2d3f9f"/>
<circle cx="343.54" cy="1047.17" r="2" fill="#2d3f9f"/>
<circle cx="348.99" cy="1047.9" r="2" fill="#2d3f9f"/>
<circle cx="354.43" cy="1048.14" r="2" fill="#2d3f9f"/>
<circle cx="359.88" cy="1048.14" r="2" fill="#2d3f9f"/>
<circle cx="365.32" cy="1048.86" r="2" fill="#2d3f9f"/>
<circle cx="370.76" cy="1050.55" r="2" fill="#2d3f9f"/>
<circle cx="376.21" cy="1052.24" r="2" fill="#2d3f9f"/>
<circle cx="381.65" cy="1052.72" r="2" fill="#2d3f9f"/>
<circle cx="387.1" cy="1053.2" r="2" fill="#2d3f9f"/>
<circle cx="392.54" cy="1056.58" r="2" fill="#2d3f9f"/>
<circle cx="397.99" cy="1058.26" r="2" fill="#2d3f9f"/>
<circle cx="403.43" cy="1060.19" r="2" fill="#2d3f9f"/>
<circle cx="408.87" cy="1062.12" r="2" fill="#2d3f9f"/>
<circle cx="414.32" cy="1064.53" r="2" fill="#2d3f9f"/>
<circle cx="419.76" cy="1065.5" r="2" fill="#2d3f9f"/>
<circle cx="425.21" cy="1067.43" r="2" fill="#2d3f9f"/>
<circle cx="430.65" cy="1068.39" r="2" fill="#2d3f9f"/>
<circle cx="436.1" cy="1071.28" r="2" fill="#2d3f9f"/>
<circle cx="441.54" cy="1074.42" r="2" fill="#2d3f9f"/>
<circle cx="446.98" cy="1076.83" r="2" fill="#2d3f9f"/>
<circle cx="452.43" cy="1077.07" r="2" fill="#2d3f9f"/>
<circle cx="457.87" cy="1079" r="2" fill="#2d3f9f"/>
<circle cx="463.32" cy="1080.69" r="2" fill="#2d3f9f"/>
<circle cx="468.76" cy="1082.37" r="2" fill="#2d3f9f"/>
<circle cx="474.2" cy="1085.03" r="2" fill="#2d3f9f"/>
<circle cx="479.65" cy="1091.05" r="2" fill="#2d3f9f"/>
<circle cx="485.09" cy="1106.97" r="2" fill="#2d3f9f"/>
<line x1="119.6" y1="751.8" x2="119.6" y2="1124.6" stroke="#222" stroke-width="1.6"/>
<line x1="119" y1="1124" x2="502.5" y2="1124" stroke="#222" stroke-width="1.6"/>
<line x1="131.2" y1="1124" x2="131.2" y2="1127.2" stroke="#222" stroke-width="1.1"/>
<text x="132.4" y="1142.2" font-size="17.2" text-anchor="middle" fill="#4d4d4d" stroke="#4d4d4d" stroke-width="0.3">0</text>
<line x1="240.2" y1="1124" x2="240.2" y2="1127.2" stroke="#222" stroke-width="1.1"/>
<text x="241.4" y="1142.2" font-size="17.2" text-anchor="middle" fill="#4d4d4d" stroke="#4d4d4d" stroke-width="0.3">20</text>
<line x1="348.9" y1="1124" x2="348.9" y2="1127.2" stroke="#222" stroke-width="1.1"/>
<text x="350.1" y="1142.2" font-size="17.2" text-anchor="middle" fill="#4d4d4d" stroke="#4d4d4d" stroke-width="0.3">40</text>
<line x1="457.9" y1="1124" x2="457.9" y2="1127.2" stroke="#222" stroke-width="1.1"/>
<text x="459.1" y="1142.2" font-size="17.2" text-anchor="middle" fill="#4d4d4d" stroke="#4d4d4d" stroke-width="0.3">60</text>
<line x1="116.4" y1="824.9" x2="119.6" y2="824.9" stroke="#222" stroke-width="1.1"/>
<text x="115.8" y="831.1" font-size="17.2" text-anchor="end" fill="#4d4d4d" stroke="#4d4d4d" stroke-width="0.3">0.4</text>
<line x1="116.4" y1="903.5" x2="119.6" y2="903.5" stroke="#222" stroke-width="1.1"/>
<text x="115.8" y="909.7" font-size="17.2" text-anchor="end" fill="#4d4d4d" stroke="#4d4d4d" stroke-width="0.3">0.3</text>
<line x1="116.4" y1="981.8" x2="119.6" y2="981.8" stroke="#222" stroke-width="1.1"/>
<text x="115.8" y="988" font-size="17.2" text-anchor="end" fill="#4d4d4d" stroke="#4d4d4d" stroke-width="0.3">0.2</text>
<line x1="116.4" y1="1060.2" x2="119.6" y2="1060.2" stroke="#222" stroke-width="1.1"/>
<text x="115.8" y="1066.4" font-size="17.2" text-anchor="end" fill="#4d4d4d" stroke="#4d4d4d" stroke-width="0.3">0.1</text>
<text x="87.5" y="935.9" font-size="17" text-anchor="middle" transform="rotate(-90 87.5 935.9)" stroke="#000" stroke-width="0.3">rss</text>
<text x="311" y="1154.8" font-size="17" text-anchor="middle" stroke="#000" stroke-width="0.3">rank</text>
<text x="298.7" y="697" font-size="29.2" text-anchor="middle" stroke="#000" stroke-width="0.3">5-Bas-2</text>
<line x1="145.7" y1="785.8" x2="261.9" y2="781.5" stroke="#7c7c7c" stroke-width="1.5"/>
<rect x="127.6" y="720.6" width="238.4" height="29.7" fill="#fff" stroke="#000" stroke-width="1.4" rx="3.8"/>
<text x="246.8" y="743.6" font-size="21.8" text-anchor="middle" stroke="#000" stroke-width="0.3">Cebpd_extended (36g)</text>
<rect x="261.9" y="755" width="220.6" height="29.8" fill="#fff" stroke="#000" stroke-width="1.4" rx="3.8"/>
<text x="372.2" y="778.1" font-size="21.8" text-anchor="middle" stroke="#000" stroke-width="0.3">Lhx2_extended (48g)</text>
<rect x="160.2" y="790.6" width="118.8" height="29.7" fill="#fff" stroke="#000" stroke-width="1.4" rx="3.8"/>
<text x="219.6" y="813.6" font-size="21.8" text-anchor="middle" stroke="#000" stroke-width="0.3">Jund (35g)</text>
<rect x="243.3" y="825.6" width="222.6" height="30.1" fill="#fff" stroke="#000" stroke-width="1.4" rx="3.8"/>
<text x="354.6" y="849" font-size="21.8" text-anchor="middle" stroke="#000" stroke-width="0.3">Sox9_extended (24g)</text>
<rect x="123.7" y="844.2" width="111" height="29.9" fill="#fff" stroke="#000" stroke-width="1.4" rx="3.8"/>
<text x="179.2" y="867.4" font-size="21.8" text-anchor="middle" stroke="#000" stroke-width="0.3">Atf3 (50g)</text>
<circle cx="693.94" cy="769.42" r="2" fill="#2d3f9f"/>
<circle cx="699.38" cy="774.72" r="2" fill="#2d3f9f"/>
<circle cx="704.83" cy="774.72" r="2" fill="#2d3f9f"/>
<circle cx="710.27" cy="778.58" r="2" fill="#2d3f9f"/>
<circle cx="737.49" cy="823.18" r="2" fill="#2d3f9f"/>
<circle cx="742.94" cy="827.28" r="2" fill="#2d3f9f"/>
<circle cx="748.38" cy="828" r="2" fill="#2d3f9f"/>
<circle cx="764.71" cy="860.55" r="2" fill="#2d3f9f"/>
<circle cx="770.16" cy="862.24" r="2" fill="#2d3f9f"/>
<circle cx="775.6" cy="866.82" r="2" fill="#2d3f9f"/>
<circle cx="781.05" cy="868.51" r="2" fill="#2d3f9f"/>
<circle cx="786.49" cy="872.13" r="2" fill="#2d3f9f"/>
<circle cx="791.93" cy="885.63" r="2" fill="#2d3f9f"/>
<circle cx="797.38" cy="889.97" r="2" fill="#2d3f9f"/>
<circle cx="802.82" cy="892.38" r="2" fill="#2d3f9f"/>
<circle cx="808.27" cy="892.86" r="2" fill="#2d3f9f"/>
<circle cx="813.71" cy="896" r="2" fill="#2d3f9f"/>
<circle cx="819.16" cy="896.24" r="2" fill="#2d3f9f"/>
<circle cx="824.6" cy="900.82" r="2" fill="#2d3f9f"/>
<circle cx="830.04" cy="906.61" r="2" fill="#2d3f9f"/>
<circle cx="835.49" cy="909.74" r="2" fill="#2d3f9f"/>
<circle cx="840.93" cy="915.53" r="2" fill="#2d3f9f"/>
<circle cx="846.38" cy="916.73" r="2" fill="#2d3f9f"/>
<circle cx="851.82" cy="919.14" r="2" fill="#2d3f9f"/>
<circle cx="857.27" cy="920.35" r="2" fill="#2d3f9f"/>
<circle cx="862.71" cy="937.95" r="2" fill="#2d3f9f"/>
<circle cx="868.15" cy="937.95" r="2" fill="#2d3f9f"/>
<circle cx="873.6" cy="938.92" r="2" fill="#2d3f9f"/>
<circle cx="879.04" cy="944.94" r="2" fill="#2d3f9f"/>
<circle cx="884.49" cy="944.94" r="2" fill="#2d3f9f"/>
<circle cx="889.93" cy="945.18" r="2" fill="#2d3f9f"/>
<circle cx="895.38" cy="947.84" r="2" fill="#2d3f9f"/>
<circle cx="900.82" cy="955.07" r="2" fill="#2d3f9f"/>
<circle cx="906.26" cy="963.75" r="2" fill="#2d3f9f"/>
<circle cx="911.71" cy="963.75" r="2" fill="#2d3f9f"/>
<circle cx="917.15" cy="963.75" r="2" fill="#2d3f9f"/>
<circle cx="922.6" cy="964.47" r="2" fill="#2d3f9f"/>
<circle cx="928.04" cy="971.22" r="2" fill="#2d3f9f"/>
<circle cx="933.49" cy="974.12" r="2" fill="#2d3f9f"/>
<circle cx="938.93" cy="975.32" r="2" fill="#2d3f9f"/>
<circle cx="944.37" cy="978.94" r="2" fill="#2d3f9f"/>
<circle cx="949.82" cy="990.99" r="2" fill="#2d3f9f"/>
<circle cx="955.26" cy="997.75" r="2" fill="#2d3f9f"/>
<circle cx="960.71" cy="997.75" r="2" fill="#2d3f9f"/>
<circle cx="966.15" cy="997.99" r="2" fill="#2d3f9f"/>
<circle cx="971.59" cy="1000.4" r="2" fill="#2d3f9f"/>
<circle cx="977.04" cy="1014.14" r="2" fill="#2d3f9f"/>
<circle cx="982.48" cy="1034.39" r="2" fill="#2d3f9f"/>
<circle cx="987.93" cy="1044.76" r="2" fill="#2d3f9f"/>
<circle cx="993.37" cy="1047.41" r="2" fill="#2d3f9f"/>
<circle cx="998.82" cy="1053.92" r="2" fill="#2d3f9f"/>
<circle cx="1004.26" cy="1054.17" r="2" fill="#2d3f9f"/>
<circle cx="1009.7" cy="1072.25" r="2" fill="#2d3f9f"/>
<circle cx="1015.15" cy="1072.97" r="2" fill="#2d3f9f"/>
<circle cx="1020.59" cy="1076.11" r="2" fill="#2d3f9f"/>
<circle cx="1026.04" cy="1084.79" r="2" fill="#2d3f9f"/>
<circle cx="1031.48" cy="1091.78" r="2" fill="#2d3f9f"/>
<circle cx="1036.93" cy="1091.78" r="2" fill="#2d3f9f"/>
<circle cx="1042.37" cy="1107.93" r="2" fill="#2d3f9f"/>
<line x1="676.9" y1="752.8" x2="676.9" y2="1125.5" stroke="#222" stroke-width="1.6"/>
<line x1="676.3" y1="1124.9" x2="1060" y2="1124.9" stroke="#222" stroke-width="1.6"/>
<line x1="688.5" y1="1124.9" x2="688.5" y2="1128.1" stroke="#222" stroke-width="1.1"/>
<text x="689.7" y="1143.1" font-size="17.2" text-anchor="middle" fill="#4d4d4d" stroke="#4d4d4d" stroke-width="0.3">0</text>
<line x1="797.5" y1="1124.9" x2="797.5" y2="1128.1" stroke="#222" stroke-width="1.1"/>
<text x="798.7" y="1143.1" font-size="17.2" text-anchor="middle" fill="#4d4d4d" stroke="#4d4d4d" stroke-width="0.3">20</text>
<line x1="906.2" y1="1124.9" x2="906.2" y2="1128.1" stroke="#222" stroke-width="1.1"/>
<text x="907.4" y="1143.1" font-size="17.2" text-anchor="middle" fill="#4d4d4d" stroke="#4d4d4d" stroke-width="0.3">40</text>
<line x1="1015.2" y1="1124.9" x2="1015.2" y2="1128.1" stroke="#222" stroke-width="1.1"/>
<text x="1016.4" y="1143.1" font-size="17.2" text-anchor="middle" fill="#4d4d4d" stroke="#4d4d4d" stroke-width="0.3">60</text>
<line x1="673.7" y1="825.6" x2="676.9" y2="825.6" stroke="#222" stroke-width="1.1"/>
<text x="673.1" y="831.8" font-size="17.2" text-anchor="end" fill="#4d4d4d" stroke="#4d4d4d" stroke-width="0.3">0.6</text>
<line x1="673.7" y1="932.2" x2="676.9" y2="932.2" stroke="#222" stroke-width="1.1"/>
<text x="673.1" y="938.4" font-size="17.2" text-anchor="end" fill="#4d4d4d" stroke="#4d4d4d" stroke-width="0.3">0.4</text>
<line x1="673.7" y1="1038.5" x2="676.9" y2="1038.5" stroke="#222" stroke-width="1.1"/>
<text x="673.1" y="1044.7" font-size="17.2" text-anchor="end" fill="#4d4d4d" stroke="#4d4d4d" stroke-width="0.3">0.2</text>
<text x="644" y="936.85" font-size="17" text-anchor="middle" transform="rotate(-90 644 936.85)" stroke="#000" stroke-width="0.3">rss</text>
<text x="858" y="1154.8" font-size="17" text-anchor="middle" stroke="#000" stroke-width="0.3">rank</text>
<text x="855.5" y="697" font-size="29.2" text-anchor="middle" stroke="#000" stroke-width="0.3">4-Interm-3</text>
<line x1="704.6" y1="774.5" x2="867.4" y2="764.8" stroke="#7c7c7c" stroke-width="1.5"/>
<line x1="710.2" y1="776.2" x2="810.3" y2="800.3" stroke="#7c7c7c" stroke-width="1.5"/>
<rect x="684.3" y="725.7" width="211" height="29.8" fill="#fff" stroke="#000" stroke-width="1.4" rx="3.8"/>
<text x="789.8" y="748.8" font-size="21.8" text-anchor="middle" stroke="#000" stroke-width="0.3">Klf5_extended (99g)</text>
<rect x="867.4" y="758.8" width="141.3" height="30.6" fill="#fff" stroke="#000" stroke-width="1.4" rx="3.8"/>
<text x="938.05" y="782.7" font-size="21.8" text-anchor="middle" stroke="#000" stroke-width="0.3">Nfkb1 (113g)</text>
<rect x="810.3" y="799.6" width="117.1" height="30.6" fill="#fff" stroke="#000" stroke-width="1.4" rx="3.8"/>
<text x="868.85" y="823.5" font-size="21.8" text-anchor="middle" stroke="#000" stroke-width="0.3">Rel (112g)</text>
<rect x="681.3" y="787.3" width="104.6" height="29.9" fill="#fff" stroke="#000" stroke-width="1.4" rx="3.8"/>
<text x="733.6" y="810.5" font-size="21.8" text-anchor="middle" stroke="#000" stroke-width="0.3">Ehf (56g)</text>
<rect x="680.5" y="828.7" width="123" height="30.4" fill="#fff" stroke="#000" stroke-width="1.4" rx="3.8"/>
<text x="742" y="852.4" font-size="21.8" text-anchor="middle" stroke="#000" stroke-width="0.3">Hif1a (70g)</text>
<g shape-rendering="crispEdges">
<rect x="1234" y="692.7" width="62" height="30.79" fill="#c9726d"/>
<rect x="1295.6" y="692.7" width="61.6" height="30.79" fill="#479bb1"/>
<rect x="1234" y="722.99" width="62" height="30.79" fill="#cc7f8b"/>
<rect x="1295.6" y="722.99" width="61.6" height="30.79" fill="#4595b2"/>
<rect x="1234" y="753.28" width="62" height="30.79" fill="#4595b1"/>
<rect x="1295.6" y="753.28" width="61.6" height="30.79" fill="#cc7f8a"/>
<rect x="1234" y="783.57" width="62" height="30.79" fill="#479ab3"/>
<rect x="1295.6" y="783.57" width="61.6" height="30.79" fill="#cc7f8a"/>
<rect x="1234" y="813.86" width="62" height="30.79" fill="#479ab3"/>
<rect x="1295.6" y="813.86" width="61.6" height="30.79" fill="#c97f7c"/>
<rect x="1234" y="844.15" width="62" height="30.79" fill="#c5605c"/>
<rect x="1295.6" y="844.15" width="61.6" height="30.79" fill="#5c98bb"/>
<rect x="1234" y="874.44" width="62" height="30.79" fill="#c74a46"/>
<rect x="1295.6" y="874.44" width="61.6" height="30.79" fill="#4e98b8"/>
<rect x="1234" y="904.73" width="62" height="30.79" fill="#479bb0"/>
<rect x="1295.6" y="904.73" width="61.6" height="30.79" fill="#cc7f8a"/>
<rect x="1234" y="935.02" width="62" height="30.79" fill="#5b98ba"/>
<rect x="1295.6" y="935.02" width="61.6" height="30.79" fill="#cc7f8a"/>
<rect x="1234" y="965.31" width="62" height="30.79" fill="#4596b1"/>
<rect x="1295.6" y="965.31" width="61.6" height="30.79" fill="#c97f7e"/>
<rect x="1234" y="995.6" width="62" height="30.79" fill="#4596b1"/>
<rect x="1295.6" y="995.6" width="61.6" height="30.79" fill="#c97d78"/>
<rect x="1234" y="1025.89" width="62" height="30.79" fill="#479ab2"/>
<rect x="1295.6" y="1025.89" width="61.6" height="30.79" fill="#cc7f8a"/>
<rect x="1234" y="1056.18" width="62" height="30.79" fill="#4596b1"/>
<rect x="1295.6" y="1056.18" width="61.6" height="30.79" fill="#cc7f8a"/>
<rect x="1234" y="1086.47" width="62" height="30.79" fill="#4596b1"/>
<rect x="1295.6" y="1086.47" width="61.6" height="30.79" fill="#c97f7e"/>
</g>
<text x="1366" y="716.14" font-size="23.6" stroke="#000" stroke-width="0.3">Cebpb_extended (314g)</text>
<text x="1366" y="746.43" font-size="23.6" stroke="#000" stroke-width="0.3">Cebpd_extended (40g)</text>
<text x="1366" y="776.73" font-size="23.6" stroke="#000" stroke-width="0.3">Ehf_extended (160g)</text>
<text x="1366" y="807.01" font-size="23.6" stroke="#000" stroke-width="0.3">Grhl1 (48g)</text>
<text x="1366" y="837.31" font-size="23.6" stroke="#000" stroke-width="0.3">Grhl1_extended (95g)</text>
<text x="1366" y="867.6" font-size="23.6" stroke="#000" stroke-width="0.3">Jund (30g)</text>
<text x="1366" y="897.88" font-size="23.6" stroke="#000" stroke-width="0.3">Jund_extended (46g)</text>
<text x="1366" y="928.17" font-size="23.6" stroke="#000" stroke-width="0.3">Klf3_extended (10g)</text>
<text x="1366" y="958.46" font-size="23.6" stroke="#000" stroke-width="0.3">Klf4_extended (232g)</text>
<text x="1366" y="988.75" font-size="23.6" stroke="#000" stroke-width="0.3">Nfkb1 (76g)</text>
<text x="1366" y="1019.05" font-size="23.6" stroke="#000" stroke-width="0.3">Nfkb1_extended (136g)</text>
<text x="1366" y="1049.34" font-size="23.6" stroke="#000" stroke-width="0.3">Rcor1_extended (62g)</text>
<text x="1366" y="1079.62" font-size="23.6" stroke="#000" stroke-width="0.3">Rel (116g)</text>
<text x="1366" y="1109.91" font-size="23.6" stroke="#000" stroke-width="0.3">Rel_extended (151g)</text>
<text x="1395" y="669" font-size="29.5" text-anchor="middle" stroke="#000" stroke-width="0.3">TOP SCENIC Regulons</text>
<defs><linearGradient id="cbE" x1="0" y1="1" x2="0" y2="0"><stop offset="0" stop-color="#4a9ab3"/><stop offset="0.5" stop-color="#fff"/><stop offset="1" stop-color="#c8504b"/></linearGradient></defs>
<rect x="1172.8" y="1045.7" width="13.4" height="66.3" fill="url(#cbE)"/>
<text x="1190.5" y="1054" font-size="17.2" stroke="#000" stroke-width="0.3">0.5</text>
<text x="1190.5" y="1114.6" font-size="17.2" stroke="#000" stroke-width="0.3">0</text>
<text x="1281.3" y="1135.8" font-size="23" text-anchor="end" transform="rotate(-30 1281.3 1135.8)" stroke="#000" stroke-width="0.3">5-Bas-2</text>
<text x="1333.5" y="1138.7" font-size="23" text-anchor="end" transform="rotate(-29.3 1333.5 1138.7)" stroke="#000" stroke-width="0.3">4-Interm-3</text>
<text x="230" y="1278" font-size="23.5" text-anchor="middle" stroke="#000" stroke-width="0.3">Cebpd</text>
<line x1="197.25" y1="1303" x2="197.25" y2="1431.3" stroke="#2b2b2b" stroke-width="2.6"/>
<rect x="171.4" y="1431.3" width="51.7" height="170.4" fill="#e4716f" stroke="#2b2b2b" stroke-width="2.6"/>
<line x1="171.4" y1="1492.5" x2="223.1" y2="1492.5" stroke="#2b2b2b" stroke-width="2.8"/>
<line x1="253.7" y1="1369.1" x2="253.7" y2="1503.3" stroke="#2b2b2b" stroke-width="2.6"/>
<rect x="227.8" y="1503.3" width="51.8" height="98.4" fill="#5cc5bd" stroke="#2b2b2b" stroke-width="2.6"/>
<circle cx="253.7" cy="1323.2" r="2.1" fill="#2b2b2b"/>
<circle cx="253.7" cy="1335.1" r="2.1" fill="#2b2b2b"/>
<circle cx="253.7" cy="1348.2" r="2.1" fill="#2b2b2b"/>
<circle cx="253.7" cy="1351.4" r="2.1" fill="#2b2b2b"/>
<rect x="134.5" y="1287" width="182.7" height="330.6" fill="none" stroke="#262626" stroke-width="2.8"/>
<line x1="129.1" y1="1346" x2="133.5" y2="1346" stroke="#2b2b2b" stroke-width="1.3"/>
<text x="127.1" y="1352.3" font-size="17.6" text-anchor="end" fill="#4d4d4d" stroke="#4d4d4d" stroke-width="0.3">4</text>
<line x1="129.1" y1="1410" x2="133.5" y2="1410" stroke="#2b2b2b" stroke-width="1.3"/>
<text x="127.1" y="1416.3" font-size="17.6" text-anchor="end" fill="#4d4d4d" stroke="#4d4d4d" stroke-width="0.3">3</text>
<line x1="129.1" y1="1474" x2="133.5" y2="1474" stroke="#2b2b2b" stroke-width="1.3"/>
<text x="127.1" y="1480.3" font-size="17.6" text-anchor="end" fill="#4d4d4d" stroke="#4d4d4d" stroke-width="0.3">2</text>
<line x1="129.1" y1="1538" x2="133.5" y2="1538" stroke="#2b2b2b" stroke-width="1.3"/>
<text x="127.1" y="1544.3" font-size="17.6" text-anchor="end" fill="#4d4d4d" stroke="#4d4d4d" stroke-width="0.3">1</text>
<line x1="129.1" y1="1601.7" x2="133.5" y2="1601.7" stroke="#2b2b2b" stroke-width="1.3"/>
<text x="127.1" y="1608" font-size="17.6" text-anchor="end" fill="#4d4d4d" stroke="#4d4d4d" stroke-width="0.3">0</text>
<text x="109.8" y="1451" font-size="17.5" text-anchor="middle" transform="rotate(-90 109.8 1451)" stroke="#000" stroke-width="0.3">Expression</text>
<text x="230" y="1316.3" font-size="28.5" text-anchor="middle" stroke="#000" stroke-width="0.25">****</text>
<line x1="225.3" y1="1618.6" x2="225.3" y2="1622.6" stroke="#2b2b2b" stroke-width="1.3"/>
<text x="228" y="1630.4" font-size="16.6" text-anchor="middle" transform="rotate(-62 228 1630.4)" dominant-baseline="central" stroke="#000" stroke-width="0.3">5</text>
<text x="470.2" y="1278" font-size="23.5" text-anchor="middle" stroke="#000" stroke-width="0.3">Jund</text>
<line x1="434.5" y1="1308.4" x2="434.5" y2="1382.9" stroke="#2b2b2b" stroke-width="1.5"/>
<line x1="434.5" y1="1461.4" x2="434.5" y2="1534.8" stroke="#2b2b2b" stroke-width="1.5"/>
<rect x="409" y="1382.9" width="51" height="78.5" fill="#e4716f" stroke="#2b2b2b" stroke-width="1.5"/>
<line x1="409" y1="1420.1" x2="460" y2="1420.1" stroke="#2b2b2b" stroke-width="3"/>
<line x1="491" y1="1303.3" x2="491" y2="1413.6" stroke="#2b2b2b" stroke-width="1.5"/>
<line x1="491" y1="1503.3" x2="491" y2="1601.7" stroke="#2b2b2b" stroke-width="1.5"/>
<rect x="465.5" y="1413.6" width="51" height="89.7" fill="#5cc5bd" stroke="#2b2b2b" stroke-width="1.5"/>
<line x1="465.5" y1="1460.3" x2="516.5" y2="1460.3" stroke="#2b2b2b" stroke-width="3"/>
<rect x="372.2" y="1287.8" width="181.5" height="329.8" fill="none" stroke="#262626" stroke-width="2.8"/>
<line x1="366.8" y1="1336.2" x2="371.2" y2="1336.2" stroke="#2b2b2b" stroke-width="1.3"/>
<text x="364.8" y="1342.5" font-size="17.6" text-anchor="end" fill="#4d4d4d" stroke="#4d4d4d" stroke-width="0.3">4</text>
<line x1="366.8" y1="1402.4" x2="371.2" y2="1402.4" stroke="#2b2b2b" stroke-width="1.3"/>
<text x="364.8" y="1408.7" font-size="17.6" text-anchor="end" fill="#4d4d4d" stroke="#4d4d4d" stroke-width="0.3">3</text>
<line x1="366.8" y1="1469" x2="371.2" y2="1469" stroke="#2b2b2b" stroke-width="1.3"/>
<text x="364.8" y="1475.3" font-size="17.6" text-anchor="end" fill="#4d4d4d" stroke="#4d4d4d" stroke-width="0.3">2</text>
<line x1="366.8" y1="1535.5" x2="371.2" y2="1535.5" stroke="#2b2b2b" stroke-width="1.3"/>
<text x="364.8" y="1541.8" font-size="17.6" text-anchor="end" fill="#4d4d4d" stroke="#4d4d4d" stroke-width="0.3">1</text>
<line x1="366.8" y1="1601.7" x2="371.2" y2="1601.7" stroke="#2b2b2b" stroke-width="1.3"/>
<text x="364.8" y="1608" font-size="17.6" text-anchor="end" fill="#4d4d4d" stroke="#4d4d4d" stroke-width="0.3">0</text>
<text x="347.8" y="1451" font-size="17.5" text-anchor="middle" transform="rotate(-90 347.8 1451)" stroke="#000" stroke-width="0.3">Expression</text>
<text x="463.3" y="1314.3" font-size="28.5" text-anchor="middle" stroke="#000" stroke-width="0.25">****</text>
<line x1="462.6" y1="1618.6" x2="462.6" y2="1622.6" stroke="#2b2b2b" stroke-width="1.3"/>
<text x="465.3" y="1630.4" font-size="16.6" text-anchor="middle" transform="rotate(-62 465.3 1630.4)" dominant-baseline="central" stroke="#000" stroke-width="0.3">5</text>
<circle cx="434.4" cy="1602" r="1.3" fill="#2b2b2b"/>
<text x="708.6" y="1278" font-size="23.5" text-anchor="middle" stroke="#000" stroke-width="0.3">Atf3</text>
<line x1="673.9" y1="1302.2" x2="673.9" y2="1454.1" stroke="#2b2b2b" stroke-width="1.5"/>
<rect x="648.2" y="1454.1" width="51.4" height="147.2" fill="#e4716f" stroke="#2b2b2b" stroke-width="1.5"/>
<line x1="648.2" y1="1514.2" x2="699.6" y2="1514.2" stroke="#2b2b2b" stroke-width="3"/>
<line x1="730.55" y1="1313.4" x2="730.55" y2="1467.1" stroke="#2b2b2b" stroke-width="1.5"/>
<rect x="704.7" y="1467.1" width="51.7" height="134.6" fill="#5cc5bd" stroke="#2b2b2b" stroke-width="2.6"/>
<rect x="611.7" y="1286.7" width="181.6" height="329.8" fill="none" stroke="#262626" stroke-width="2.8"/>
<line x1="606.3" y1="1343.1" x2="610.7" y2="1343.1" stroke="#2b2b2b" stroke-width="1.3"/>
<text x="604.3" y="1349.4" font-size="17.6" text-anchor="end" fill="#4d4d4d" stroke="#4d4d4d" stroke-width="0.3">4</text>
<line x1="606.3" y1="1407.5" x2="610.7" y2="1407.5" stroke="#2b2b2b" stroke-width="1.3"/>
<text x="604.3" y="1413.8" font-size="17.6" text-anchor="end" fill="#4d4d4d" stroke="#4d4d4d" stroke-width="0.3">3</text>
<line x1="606.3" y1="1471.8" x2="610.7" y2="1471.8" stroke="#2b2b2b" stroke-width="1.3"/>
<text x="604.3" y="1478.1" font-size="17.6" text-anchor="end" fill="#4d4d4d" stroke="#4d4d4d" stroke-width="0.3">2</text>
<line x1="606.3" y1="1536.6" x2="610.7" y2="1536.6" stroke="#2b2b2b" stroke-width="1.3"/>
<text x="604.3" y="1542.9" font-size="17.6" text-anchor="end" fill="#4d4d4d" stroke="#4d4d4d" stroke-width="0.3">1</text>
<line x1="606.3" y1="1601" x2="610.7" y2="1601" stroke="#2b2b2b" stroke-width="1.3"/>
<text x="604.3" y="1607.3" font-size="17.6" text-anchor="end" fill="#4d4d4d" stroke="#4d4d4d" stroke-width="0.3">0</text>
<text x="586.6" y="1451" font-size="17.5" text-anchor="middle" transform="rotate(-90 586.6 1451)" stroke="#000" stroke-width="0.3">Expression</text>
<text x="703.6" y="1317.3" font-size="28.5" text-anchor="middle" stroke="#000" stroke-width="0.25">**</text>
<line x1="702.1" y1="1617.5" x2="702.1" y2="1621.5" stroke="#2b2b2b" stroke-width="1.3"/>
<text x="699.7" y="1628.2" font-size="16.6" text-anchor="middle" transform="rotate(-62 699.7 1628.2)" dominant-baseline="central" stroke="#000" stroke-width="0.3">5</text>
<text x="956.4" y="1278" font-size="23.5" text-anchor="middle" stroke="#000" stroke-width="0.3">Lhx2</text>
<line x1="915.35" y1="1372.4" x2="915.35" y2="1508.7" stroke="#2b2b2b" stroke-width="1.3"/>
<rect x="889.1" y="1508.7" width="52.5" height="92.6" fill="#ec7070" stroke="#2b2b2b" stroke-width="1.3"/>
<line x1="973.9" y1="1302.9" x2="973.9" y2="1434.2" stroke="#2b2b2b" stroke-width="1.3"/>
<rect x="947.7" y="1434.2" width="52.4" height="167.1" fill="#63d6cb" stroke="#2b2b2b" stroke-width="1.3"/>
<line x1="947.7" y1="1493.2" x2="1000.1" y2="1493.2" stroke="#2b2b2b" stroke-width="2.6"/>
<rect x="857.4" y="1287.6" width="181.1" height="329.3" fill="none" stroke="#111" stroke-width="2.8"/>
<line x1="853" y1="1300.4" x2="856.4" y2="1300.4" stroke="#2b2b2b" stroke-width="1.3"/>
<text x="851" y="1306.34" font-size="16.6" text-anchor="end" fill="#4d4d4d" stroke="#4d4d4d" stroke-width="0.3">4</text>
<line x1="853" y1="1373.8" x2="856.4" y2="1373.8" stroke="#2b2b2b" stroke-width="1.3"/>
<text x="851" y="1379.74" font-size="16.6" text-anchor="end" fill="#4d4d4d" stroke="#4d4d4d" stroke-width="0.3">3</text>
<line x1="853" y1="1448.3" x2="856.4" y2="1448.3" stroke="#2b2b2b" stroke-width="1.3"/>
<text x="851" y="1454.24" font-size="16.6" text-anchor="end" fill="#4d4d4d" stroke="#4d4d4d" stroke-width="0.3">2</text>
<line x1="853" y1="1522.5" x2="856.4" y2="1522.5" stroke="#2b2b2b" stroke-width="1.3"/>
<text x="851" y="1528.44" font-size="16.6" text-anchor="end" fill="#4d4d4d" stroke="#4d4d4d" stroke-width="0.3">1</text>
<line x1="853" y1="1615.8" x2="856.4" y2="1615.8" stroke="#2b2b2b" stroke-width="1.3"/>
<text x="851" y="1621.74" font-size="16.6" text-anchor="end" fill="#4d4d4d" stroke="#4d4d4d" stroke-width="0.3">0</text>
<text x="825" y="1441.5" font-size="17.5" text-anchor="middle" transform="rotate(-90 825 1441.5)" stroke="#000" stroke-width="0.3">Expression</text>
<text x="944.1" y="1316.3" font-size="28.5" text-anchor="middle" stroke="#000" stroke-width="0.25">****</text>
<line x1="945.5" y1="1617.9" x2="945.5" y2="1621.9" stroke="#2b2b2b" stroke-width="1.3"/>
<text x="945.8" y="1630.2" font-size="16.6" text-anchor="middle" transform="rotate(-62 945.8 1630.2)" dominant-baseline="central" stroke="#000" stroke-width="0.3">5</text>
<text x="1190.6" y="1278" font-size="23.5" text-anchor="middle" stroke="#000" stroke-width="0.3">Rel</text>
<line x1="1157.15" y1="1303.8" x2="1157.15" y2="1472.9" stroke="#2b2b2b" stroke-width="1.5"/>
<rect x="1131.9" y="1472.9" width="50.5" height="130" fill="#e4716f" stroke="#2b2b2b" stroke-width="1.5"/>
<line x1="1131.9" y1="1602" x2="1182.4" y2="1602" stroke="#2b2b2b" stroke-width="3"/>
<line x1="1213.75" y1="1486.3" x2="1213.75" y2="1553.9" stroke="#2b2b2b" stroke-width="1.5"/>
<rect x="1188.2" y="1553.9" width="51.1" height="49" fill="#5cc5bd" stroke="#2b2b2b" stroke-width="1.5"/>
<line x1="1188.2" y1="1602" x2="1239.3" y2="1602" stroke="#2b2b2b" stroke-width="3"/>
<circle cx="1213.75" cy="1304.3" r="0.95" fill="#2b2b2b"/>
<circle cx="1213.75" cy="1345.62" r="0.95" fill="#2b2b2b"/>
<circle cx="1213.75" cy="1355.32" r="0.95" fill="#2b2b2b"/>
<circle cx="1213.75" cy="1363.69" r="0.95" fill="#2b2b2b"/>
<circle cx="1213.75" cy="1366.7" r="0.95" fill="#2b2b2b"/>
<circle cx="1213.75" cy="1369.54" r="0.95" fill="#2b2b2b"/>
<circle cx="1213.75" cy="1376.57" r="0.95" fill="#2b2b2b"/>
<circle cx="1213.75" cy="1400.16" r="0.95" fill="#2b2b2b"/>
<circle cx="1213.75" cy="1403.84" r="0.95" fill="#2b2b2b"/>
<circle cx="1213.75" cy="1406.35" r="0.95" fill="#2b2b2b"/>
<circle cx="1213.75" cy="1408.86" r="0.95" fill="#2b2b2b"/>
<circle cx="1213.75" cy="1411.87" r="0.95" fill="#2b2b2b"/>
<circle cx="1213.75" cy="1414.88" r="0.95" fill="#2b2b2b"/>
<circle cx="1213.75" cy="1417.89" r="0.95" fill="#2b2b2b"/>
<circle cx="1213.75" cy="1420.9" r="0.95" fill="#2b2b2b"/>
<circle cx="1213.75" cy="1424.25" r="0.95" fill="#2b2b2b"/>
<circle cx="1213.75" cy="1428.1" r="0.95" fill="#2b2b2b"/>
<circle cx="1213.75" cy="1431.44" r="0.95" fill="#2b2b2b"/>
<circle cx="1213.75" cy="1433.12" r="0.95" fill="#2b2b2b"/>
<circle cx="1213.75" cy="1434.79" r="0.95" fill="#2b2b2b"/>
<circle cx="1213.75" cy="1437.3" r="0.95" fill="#2b2b2b"/>
<circle cx="1213.75" cy="1439.81" r="0.95" fill="#2b2b2b"/>
<circle cx="1213.75" cy="1442.32" r="0.95" fill="#2b2b2b"/>
<circle cx="1213.75" cy="1444.83" r="0.95" fill="#2b2b2b"/>
<circle cx="1213.75" cy="1447.34" r="0.95" fill="#2b2b2b"/>
<circle cx="1213.75" cy="1449.85" r="0.95" fill="#2b2b2b"/>
<circle cx="1213.75" cy="1451.52" r="0.95" fill="#2b2b2b"/>
<circle cx="1213.75" cy="1453.19" r="0.95" fill="#2b2b2b"/>
<circle cx="1213.75" cy="1455.7" r="0.95" fill="#2b2b2b"/>
<circle cx="1213.75" cy="1458.21" r="0.95" fill="#2b2b2b"/>
<circle cx="1213.75" cy="1460.72" r="0.95" fill="#2b2b2b"/>
<circle cx="1213.75" cy="1463.23" r="0.95" fill="#2b2b2b"/>
<circle cx="1213.75" cy="1464.9" r="0.95" fill="#2b2b2b"/>
<circle cx="1213.75" cy="1466.58" r="0.95" fill="#2b2b2b"/>
<circle cx="1213.75" cy="1468.25" r="0.95" fill="#2b2b2b"/>
<circle cx="1213.75" cy="1469.92" r="0.95" fill="#2b2b2b"/>
<circle cx="1213.75" cy="1471.6" r="0.95" fill="#2b2b2b"/>
<circle cx="1213.75" cy="1473.27" r="0.95" fill="#2b2b2b"/>
<circle cx="1213.75" cy="1474.94" r="0.95" fill="#2b2b2b"/>
<circle cx="1213.75" cy="1480.46" r="0.95" fill="#2b2b2b"/>
<circle cx="1213.75" cy="1482.14" r="0.95" fill="#2b2b2b"/>
<rect x="1095.1" y="1288.4" width="180.6" height="329.3" fill="none" stroke="#262626" stroke-width="2.8"/>
<line x1="1092.5" y1="1390.1" x2="1094.1" y2="1390.1" stroke="#2b2b2b" stroke-width="1.3"/>
<text x="1090.5" y="1396.4" font-size="17.6" text-anchor="end" fill="#4d4d4d" stroke="#4d4d4d" stroke-width="0.3">2</text>
<line x1="1092.5" y1="1496.2" x2="1094.1" y2="1496.2" stroke="#2b2b2b" stroke-width="1.3"/>
<text x="1090.5" y="1502.5" font-size="17.6" text-anchor="end" fill="#4d4d4d" stroke="#4d4d4d" stroke-width="0.3">1</text>
<line x1="1092.5" y1="1602.6" x2="1094.1" y2="1602.6" stroke="#2b2b2b" stroke-width="1.3"/>
<text x="1090.5" y="1608.9" font-size="17.6" text-anchor="end" fill="#4d4d4d" stroke="#4d4d4d" stroke-width="0.3">0</text>
<text x="1070.6" y="1451.5" font-size="17.5" text-anchor="middle" transform="rotate(-90 1070.6 1451.5)" stroke="#000" stroke-width="0.3">Expression</text>
<text x="1186.7" y="1319.3" font-size="28.5" text-anchor="middle" stroke="#000" stroke-width="0.25">*</text>
<line x1="1185.4" y1="1618.7" x2="1185.4" y2="1620.7" stroke="#2b2b2b" stroke-width="1.3"/>
<text x="1183.2" y="1627.9" font-size="15.6" text-anchor="middle" transform="rotate(-62 1183.2 1627.9)" dominant-baseline="central" stroke="#000" stroke-width="0.3">4</text>
<text x="1417.8" y="1278" font-size="23.5" text-anchor="middle" stroke="#000" stroke-width="0.3">Klf4</text>
<line x1="1395" y1="1304.3" x2="1395" y2="1409.8" stroke="#2b2b2b" stroke-width="2.5"/>
<rect x="1369.1" y="1409.8" width="51.8" height="193.2" fill="#ec7070" stroke="#2b2b2b" stroke-width="2.5"/>
<line x1="1369.1" y1="1462.7" x2="1420.9" y2="1462.7" stroke="#2b2b2b" stroke-width="2.6"/>
<line x1="1451.6" y1="1322.8" x2="1451.6" y2="1439.1" stroke="#2b2b2b" stroke-width="2.5"/>
<rect x="1425.9" y="1439.1" width="51.4" height="163.9" fill="#63d6cb" stroke="#2b2b2b" stroke-width="2.5"/>
<line x1="1425.9" y1="1503.3" x2="1477.3" y2="1503.3" stroke="#2b2b2b" stroke-width="2.6"/>
<rect x="1332.8" y="1288.8" width="181.2" height="328.8" fill="none" stroke="#262626" stroke-width="2.8"/>
<line x1="1330.4" y1="1370.3" x2="1331.8" y2="1370.3" stroke="#2b2b2b" stroke-width="1.3"/>
<text x="1328.4" y="1376.6" font-size="17.6" text-anchor="end" fill="#4d4d4d" stroke="#4d4d4d" stroke-width="0.3">3</text>
<line x1="1330.4" y1="1444.5" x2="1331.8" y2="1444.5" stroke="#2b2b2b" stroke-width="1.3"/>
<text x="1328.4" y="1450.8" font-size="17.6" text-anchor="end" fill="#4d4d4d" stroke="#4d4d4d" stroke-width="0.3">2</text>
<line x1="1330.4" y1="1519.5" x2="1331.8" y2="1519.5" stroke="#2b2b2b" stroke-width="1.3"/>
<text x="1328.4" y="1525.8" font-size="17.6" text-anchor="end" fill="#4d4d4d" stroke="#4d4d4d" stroke-width="0.3">1</text>
<line x1="1330.4" y1="1594.1" x2="1331.8" y2="1594.1" stroke="#2b2b2b" stroke-width="1.3"/>
<text x="1328.4" y="1600.4" font-size="17.6" text-anchor="end" fill="#4d4d4d" stroke="#4d4d4d" stroke-width="0.3">0</text>
<text x="1311" y="1441" font-size="17.5" text-anchor="middle" transform="rotate(-90 1311 1441)" stroke="#000" stroke-width="0.3">Expression</text>
<text x="1428.6" y="1316.8" font-size="28.5" text-anchor="middle" stroke="#000" stroke-width="0.25">****</text>
<line x1="1422.3" y1="1618.6" x2="1422.3" y2="1620.6" stroke="#2b2b2b" stroke-width="1.3"/>
<text x="1420.5" y="1627.8" font-size="15.6" text-anchor="middle" transform="rotate(-62 1420.5 1627.8)" dominant-baseline="central" stroke="#000" stroke-width="0.3">4</text>
<line x1="1531.6" y1="1562" x2="1531.6" y2="1584" stroke="#2b2b2b" stroke-width="1.2"/>
<rect x="1521.9" y="1566.2" width="19.4" height="13.9" fill="#ec7070" stroke="#2b2b2b" stroke-width="1.5"/>
<line x1="1521.9" y1="1573.15" x2="1541.3" y2="1573.15" stroke="#2b2b2b" stroke-width="1.5"/>
<text x="1546" y="1579.4" font-size="17.6" stroke="#000" stroke-width="0.3"><tspan font-style="italic">Supt6</tspan> KO</text>
<line x1="1531.6" y1="1589.1" x2="1531.6" y2="1611.1" stroke="#2b2b2b" stroke-width="1.2"/>
<rect x="1521.9" y="1593.3" width="19.4" height="13.9" fill="#63d6cb" stroke="#2b2b2b" stroke-width="1.5"/>
<line x1="1521.9" y1="1600.25" x2="1541.3" y2="1600.25" stroke="#2b2b2b" stroke-width="1.5"/>
<text x="1546" y="1606.5" font-size="17.6" stroke="#000" stroke-width="0.3">Control</text>
<text x="287.2" y="1737" font-size="29.4" stroke="#000" stroke-width="0.3">GSEA analysis of subcluster 5 (5-Bas-2)</text>
<line x1="478.7" y1="1795.7" x2="569.9" y2="1795.7" stroke="#d3d3d3" stroke-width="1.5"/>
<line x1="478.7" y1="1825.16" x2="569.9" y2="1825.16" stroke="#d3d3d3" stroke-width="1.5"/>
<line x1="478.7" y1="1854.63" x2="569.9" y2="1854.63" stroke="#d3d3d3" stroke-width="1.5"/>
<line x1="478.7" y1="1884.1" x2="569.9" y2="1884.1" stroke="#d3d3d3" stroke-width="1.5"/>
<line x1="478.7" y1="1913.56" x2="569.9" y2="1913.56" stroke="#d3d3d3" stroke-width="1.5"/>
<line x1="478.7" y1="1943.03" x2="569.9" y2="1943.03" stroke="#d3d3d3" stroke-width="1.5"/>
<line x1="478.7" y1="1972.49" x2="569.9" y2="1972.49" stroke="#d3d3d3" stroke-width="1.5"/>
<line x1="478.7" y1="2001.95" x2="569.9" y2="2001.95" stroke="#d3d3d3" stroke-width="1.5"/>
<line x1="478.7" y1="2031.42" x2="569.9" y2="2031.42" stroke="#d3d3d3" stroke-width="1.5"/>
<line x1="478.7" y1="2060.89" x2="569.9" y2="2060.89" stroke="#d3d3d3" stroke-width="1.5"/>
<line x1="478.7" y1="2090.35" x2="569.9" y2="2090.35" stroke="#d3d3d3" stroke-width="1.5"/>
<line x1="478.7" y1="2119.82" x2="569.9" y2="2119.82" stroke="#d3d3d3" stroke-width="1.5"/>
<line x1="478.7" y1="2149.28" x2="569.9" y2="2149.28" stroke="#d3d3d3" stroke-width="1.5"/>
<line x1="478.7" y1="2178.74" x2="569.9" y2="2178.74" stroke="#d3d3d3" stroke-width="1.5"/>
<line x1="478.7" y1="2208.21" x2="569.9" y2="2208.21" stroke="#d3d3d3" stroke-width="1.5"/>
<line x1="524.2" y1="1781.8" x2="524.2" y2="2223.2" stroke="#d3d3d3" stroke-width="1.5"/>
<line x1="608.9" y1="1795.7" x2="699.7" y2="1795.7" stroke="#d3d3d3" stroke-width="1.5"/>
<line x1="608.9" y1="1825.16" x2="699.7" y2="1825.16" stroke="#d3d3d3" stroke-width="1.5"/>
<line x1="608.9" y1="1854.63" x2="699.7" y2="1854.63" stroke="#d3d3d3" stroke-width="1.5"/>
<line x1="608.9" y1="1884.1" x2="699.7" y2="1884.1" stroke="#d3d3d3" stroke-width="1.5"/>
<line x1="608.9" y1="1913.56" x2="699.7" y2="1913.56" stroke="#d3d3d3" stroke-width="1.5"/>
<line x1="608.9" y1="1943.03" x2="699.7" y2="1943.03" stroke="#d3d3d3" stroke-width="1.5"/>
<line x1="608.9" y1="1972.49" x2="699.7" y2="1972.49" stroke="#d3d3d3" stroke-width="1.5"/>
<line x1="608.9" y1="2001.95" x2="699.7" y2="2001.95" stroke="#d3d3d3" stroke-width="1.5"/>
<line x1="608.9" y1="2031.42" x2="699.7" y2="2031.42" stroke="#d3d3d3" stroke-width="1.5"/>
<line x1="608.9" y1="2060.89" x2="699.7" y2="2060.89" stroke="#d3d3d3" stroke-width="1.5"/>
<line x1="608.9" y1="2090.35" x2="699.7" y2="2090.35" stroke="#d3d3d3" stroke-width="1.5"/>
<line x1="608.9" y1="2119.82" x2="699.7" y2="2119.82" stroke="#d3d3d3" stroke-width="1.5"/>
<line x1="608.9" y1="2149.28" x2="699.7" y2="2149.28" stroke="#d3d3d3" stroke-width="1.5"/>
<line x1="608.9" y1="2178.74" x2="699.7" y2="2178.74" stroke="#d3d3d3" stroke-width="1.5"/>
<line x1="608.9" y1="2208.21" x2="699.7" y2="2208.21" stroke="#d3d3d3" stroke-width="1.5"/>
<line x1="638.6" y1="1781.8" x2="638.6" y2="2223.2" stroke="#d3d3d3" stroke-width="1.5"/>
<line x1="669" y1="1781.8" x2="669" y2="2223.2" stroke="#d3d3d3" stroke-width="1.5"/>
<circle cx="648.6" cy="1795.7" r="11.6" fill="#e02b2b"/>
<circle cx="651.9" cy="1825.16" r="9.9" fill="#e02b2b"/>
<circle cx="655.9" cy="1854.63" r="9.4" fill="#e02b2b"/>
<circle cx="652.4" cy="1884.1" r="8.6" fill="#e02b2b"/>
<circle cx="654.2" cy="1913.56" r="7.6" fill="#dc2c30"/>
<circle cx="651.4" cy="1943.03" r="6.8" fill="#c8304a"/>
<circle cx="662.5" cy="1972.49" r="7.8" fill="#c22d55"/>
<circle cx="640.8" cy="2001.95" r="5.1" fill="#4553a3"/>
<circle cx="561.8" cy="2031.42" r="6.6" fill="#e02b2b"/>
<circle cx="556.2" cy="2060.89" r="3.8" fill="#e02b2b"/>
<circle cx="523" cy="2090.35" r="10.1" fill="#e02b2b"/>
<circle cx="527.3" cy="2119.82" r="7.6" fill="#9a3480"/>
<circle cx="534.2" cy="2149.28" r="4.6" fill="#8a35a5"/>
<circle cx="529.6" cy="2178.74" r="7.1" fill="#8535a5"/>
<circle cx="522.3" cy="2208.21" r="8.6" fill="#8a30a0"/>
<rect x="478.7" y="1757.2" width="91.2" height="24.6" fill="#d2d2d2" stroke="#000" stroke-width="1.5"/>
<rect x="478.7" y="1781.8" width="91.2" height="441.4" fill="none" stroke="#000" stroke-width="1.6"/>
<text x="524.3" y="1774.5" font-size="16.4" text-anchor="middle" fill="#111" stroke="#111" stroke-width="0.3">Activated</text>
<line x1="478.7" y1="2223.2" x2="478.7" y2="2228.5" stroke="#000" stroke-width="1.5"/>
<text x="478.7" y="2243.9" font-size="14.1" text-anchor="middle" stroke="#000" stroke-width="0.3">1</text>
<line x1="524.2" y1="2223.2" x2="524.2" y2="2228.5" stroke="#000" stroke-width="1.5"/>
<text x="524.2" y="2243.9" font-size="14.1" text-anchor="middle" stroke="#000" stroke-width="0.3">2</text>
<line x1="569.9" y1="2223.2" x2="569.9" y2="2228.5" stroke="#000" stroke-width="1.5"/>
<text x="569.9" y="2243.9" font-size="14.1" text-anchor="middle" stroke="#000" stroke-width="0.3">3</text>
<text x="524.3" y="2265.4" font-size="16.3" text-anchor="middle" font-weight="bold" stroke="#000" stroke-width="0.3">NES</text>
<rect x="608.9" y="1757.2" width="90.8" height="24.6" fill="#d2d2d2" stroke="#000" stroke-width="1.5"/>
<rect x="608.9" y="1781.8" width="90.8" height="441.4" fill="none" stroke="#000" stroke-width="1.6"/>
<text x="654.3" y="1774.5" font-size="16.4" text-anchor="middle" fill="#111" stroke="#111" stroke-width="0.3">Suppressed</text>
<line x1="608.9" y1="2223.2" x2="608.9" y2="2228.5" stroke="#000" stroke-width="1.5"/>
<text x="608.9" y="2243.9" font-size="14.1" text-anchor="middle" stroke="#000" stroke-width="0.3">-2.2</text>
<line x1="638.6" y1="2223.2" x2="638.6" y2="2228.5" stroke="#000" stroke-width="1.5"/>
<text x="638.6" y="2243.9" font-size="14.1" text-anchor="middle" stroke="#000" stroke-width="0.3">-2</text>
<line x1="669" y1="2223.2" x2="669" y2="2228.5" stroke="#000" stroke-width="1.5"/>
<text x="669" y="2243.9" font-size="14.1" text-anchor="middle" stroke="#000" stroke-width="0.3">-1.8</text>
<line x1="699.7" y1="2223.2" x2="699.7" y2="2228.5" stroke="#000" stroke-width="1.5"/>
<text x="699.7" y="2243.9" font-size="14.1" text-anchor="middle" stroke="#000" stroke-width="0.3">-1.6</text>
<text x="654.3" y="2265.4" font-size="16.3" text-anchor="middle" font-weight="bold" stroke="#000" stroke-width="0.3">NES</text>
<line x1="471.5" y1="1795.7" x2="478.7" y2="1795.7" stroke="#111" stroke-width="1.5"/>
<text x="467.4" y="1800.65" font-size="14.34" text-anchor="end" stroke="#000" stroke-width="0.3">GOBP_PATTERN_SPECIFICATION_PROCESS</text>
<line x1="471.5" y1="1825.16" x2="478.7" y2="1825.16" stroke="#111" stroke-width="1.5"/>
<text x="467.4" y="1830.11" font-size="14.34" text-anchor="end" fill="#34a553" stroke="#34a553" stroke-width="0.3">GOBP_REGULATION_OF_WNT_SIGNALING_PATHWAY</text>
<line x1="471.5" y1="1854.63" x2="478.7" y2="1854.63" stroke="#111" stroke-width="1.5"/>
<text x="467.4" y="1859.58" font-size="14.34" text-anchor="end" fill="#34a553" stroke="#34a553" stroke-width="0.3">GOBP_CANONICAL_WNT_SIGNALING_PATHWAY</text>
<line x1="471.5" y1="1884.1" x2="478.7" y2="1884.1" stroke="#111" stroke-width="1.5"/>
<text x="467.4" y="1889.04" font-size="14.34" text-anchor="end" fill="#34a553" stroke="#34a553" stroke-width="0.3">GOBP_REGULATION_OF_CANONICAL_WNT_SIGNALING_PATHWAY</text>
<line x1="471.5" y1="1913.56" x2="478.7" y2="1913.56" stroke="#111" stroke-width="1.5"/>
<text x="467.4" y="1918.51" font-size="14.34" text-anchor="end" stroke="#000" stroke-width="0.3">GOBP_CARTILAGE_DEVELOPMENT</text>
<line x1="471.5" y1="1943.03" x2="478.7" y2="1943.03" stroke="#111" stroke-width="1.5"/>
<text x="467.4" y="1947.97" font-size="14.34" text-anchor="end" stroke="#000" stroke-width="0.3">GOBP_APPENDAGE_MORPHOGENESIS</text>
<line x1="471.5" y1="1972.49" x2="478.7" y2="1972.49" stroke="#111" stroke-width="1.5"/>
<text x="467.4" y="1977.44" font-size="14.34" text-anchor="end" stroke="#000" stroke-width="0.3">GOBP_ANTERIOR_POSTERIOR_PATTERN_SPECIFICATION</text>
<line x1="471.5" y1="2001.95" x2="478.7" y2="2001.95" stroke="#111" stroke-width="1.5"/>
<text x="467.4" y="2006.9" font-size="14.34" text-anchor="end" stroke="#000" stroke-width="0.3">GOBP_DORSAL_VENTRAL_PATTERN_FORMATION</text>
<line x1="471.5" y1="2031.42" x2="478.7" y2="2031.42" stroke="#111" stroke-width="1.5"/>
<text x="467.4" y="2036.37" font-size="14.34" text-anchor="end" stroke="#000" stroke-width="0.3">GOBP_CYTOPLASMIC_TRANSLATION</text>
<line x1="471.5" y1="2060.89" x2="478.7" y2="2060.89" stroke="#111" stroke-width="1.5"/>
<text x="467.4" y="2065.83" font-size="14.34" text-anchor="end" stroke="#000" stroke-width="0.3">GOBP_TRANSLATION_AT_SYNAPSE</text>
<line x1="471.5" y1="2090.35" x2="478.7" y2="2090.35" stroke="#111" stroke-width="1.5"/>
<text x="467.4" y="2095.3" font-size="14.34" text-anchor="end" stroke="#000" stroke-width="0.3">GOBP_RIBOSOME_BIOGENESIS</text>
<line x1="471.5" y1="2119.82" x2="478.7" y2="2119.82" stroke="#f7c6c6" stroke-width="1.5"/>
<text x="467.4" y="2124.76" font-size="14.34" text-anchor="end" fill="#e0262b" stroke="#e0262b" stroke-width="0.3">GOBP_HUMORAL_IMMUNE_RESPONSE</text>
<line x1="471.5" y1="2149.28" x2="478.7" y2="2149.28" stroke="#111" stroke-width="1.5"/>
<text x="467.4" y="2154.23" font-size="14.34" text-anchor="end" stroke="#000" stroke-width="0.3">GOBP_RIBOSOMAL_LARGE_SUBUNIT_BIOGENESIS</text>
<line x1="471.5" y1="2178.74" x2="478.7" y2="2178.74" stroke="#111" stroke-width="1.5"/>
<text x="467.4" y="2183.69" font-size="14.34" text-anchor="end" fill="#e0262b" stroke="#e0262b" stroke-width="0.3">GOBP_KERATINOCYTE_DIFFERENTIATION</text>
<line x1="471.5" y1="2208.21" x2="478.7" y2="2208.21" stroke="#111" stroke-width="1.5"/>
<text x="467.4" y="2213.16" font-size="14.34" text-anchor="end" fill="#e0262b" stroke="#e0262b" stroke-width="0.3">GOBP_EPIDERMAL_CELL_DIFFERENTIATION</text>
<text x="718" y="1838.7" font-size="14.3" stroke="#000" stroke-width="0.3">Padjust</text>
<defs><linearGradient id="cbG" x1="0" y1="0" x2="0" y2="1"><stop offset="0" stop-color="#4957a4"/><stop offset="0.5" stop-color="#a03a72"/><stop offset="1" stop-color="#e32b2b"/></linearGradient></defs>
<rect x="723.5" y="1850.1" width="24.1" height="119.5" fill="url(#cbG)"/>
<line x1="747.6" y1="1861" x2="750.8" y2="1861" stroke="#333" stroke-width="0.9"/>
<text x="754.6" y="1866.01" font-size="14.2" stroke="#000" stroke-width="0.3">0.00000500</text>
<line x1="747.6" y1="1883" x2="750.8" y2="1883" stroke="#333" stroke-width="0.9"/>
<text x="754.6" y="1888.01" font-size="14.2" stroke="#000" stroke-width="0.3">0.00000400</text>
<line x1="747.6" y1="1904.6" x2="750.8" y2="1904.6" stroke="#333" stroke-width="0.9"/>
<text x="754.6" y="1909.61" font-size="14.2" stroke="#000" stroke-width="0.3">0.00000300</text>
<line x1="747.6" y1="1926.3" x2="750.8" y2="1926.3" stroke="#333" stroke-width="0.9"/>
<text x="754.6" y="1931.31" font-size="14.2" stroke="#000" stroke-width="0.3">0.00000200</text>
<line x1="747.6" y1="1948.1" x2="750.8" y2="1948.1" stroke="#333" stroke-width="0.9"/>
<text x="754.6" y="1953.11" font-size="14.2" stroke="#000" stroke-width="0.3">0.00000100</text>
<line x1="747.6" y1="1969.6" x2="750.8" y2="1969.6" stroke="#333" stroke-width="0.9"/>
<text x="754.6" y="1974.61" font-size="14.2" stroke="#000" stroke-width="0.3">0.00</text>
<text x="718" y="2018.4" font-size="14.3" stroke="#000" stroke-width="0.3">Number</text>
<circle cx="723.8" cy="2036.3" r="5.1" fill="#000"/>
<text x="744.5" y="2041.31" font-size="14.1" stroke="#000" stroke-width="0.3">48</text>
<circle cx="723.8" cy="2058.9" r="7.8" fill="#000"/>
<text x="744.5" y="2063.91" font-size="14.1" stroke="#000" stroke-width="0.3">166</text>
<circle cx="723.8" cy="2081.4" r="9.6" fill="#000"/>
<text x="744.5" y="2086.41" font-size="14.1" stroke="#000" stroke-width="0.3">285</text>
<circle cx="723.8" cy="2108.2" r="11.1" fill="#000"/>
<text x="744.5" y="2113.2" font-size="14.1" stroke="#000" stroke-width="0.3">407</text>
<text x="1131.7" y="1730.7" font-size="29.4" stroke="#000" stroke-width="0.3">GSEA analysis of subcluster 4 (4-Interm-3)</text>
<line x1="1376.3" y1="1791.1" x2="1466.9" y2="1791.1" stroke="#d3d3d3" stroke-width="1.5"/>
<line x1="1376.3" y1="1815.91" x2="1466.9" y2="1815.91" stroke="#d3d3d3" stroke-width="1.5"/>
<line x1="1376.3" y1="1840.71" x2="1466.9" y2="1840.71" stroke="#d3d3d3" stroke-width="1.5"/>
<line x1="1376.3" y1="1865.52" x2="1466.9" y2="1865.52" stroke="#d3d3d3" stroke-width="1.5"/>
<line x1="1376.3" y1="1890.33" x2="1466.9" y2="1890.33" stroke="#d3d3d3" stroke-width="1.5"/>
<line x1="1376.3" y1="1915.13" x2="1466.9" y2="1915.13" stroke="#d3d3d3" stroke-width="1.5"/>
<line x1="1376.3" y1="1939.94" x2="1466.9" y2="1939.94" stroke="#d3d3d3" stroke-width="1.5"/>
<line x1="1376.3" y1="1964.75" x2="1466.9" y2="1964.75" stroke="#d3d3d3" stroke-width="1.5"/>
<line x1="1376.3" y1="1989.56" x2="1466.9" y2="1989.56" stroke="#d3d3d3" stroke-width="1.5"/>
<line x1="1376.3" y1="2014.36" x2="1466.9" y2="2014.36" stroke="#d3d3d3" stroke-width="1.5"/>
<line x1="1376.3" y1="2039.17" x2="1466.9" y2="2039.17" stroke="#d3d3d3" stroke-width="1.5"/>
<line x1="1376.3" y1="2063.98" x2="1466.9" y2="2063.98" stroke="#d3d3d3" stroke-width="1.5"/>
<line x1="1376.3" y1="2088.78" x2="1466.9" y2="2088.78" stroke="#d3d3d3" stroke-width="1.5"/>
<line x1="1376.3" y1="2113.59" x2="1466.9" y2="2113.59" stroke="#d3d3d3" stroke-width="1.5"/>
<line x1="1376.3" y1="2138.4" x2="1466.9" y2="2138.4" stroke="#d3d3d3" stroke-width="1.5"/>
<line x1="1421.6" y1="1779.2" x2="1421.6" y2="2151.7" stroke="#d3d3d3" stroke-width="1.5"/>
<line x1="1502.3" y1="1791.1" x2="1592.9" y2="1791.1" stroke="#d3d3d3" stroke-width="1.5"/>
<line x1="1502.3" y1="1815.91" x2="1592.9" y2="1815.91" stroke="#d3d3d3" stroke-width="1.5"/>
<line x1="1502.3" y1="1840.71" x2="1592.9" y2="1840.71" stroke="#d3d3d3" stroke-width="1.5"/>
<line x1="1502.3" y1="1865.52" x2="1592.9" y2="1865.52" stroke="#d3d3d3" stroke-width="1.5"/>
<line x1="1502.3" y1="1890.33" x2="1592.9" y2="1890.33" stroke="#d3d3d3" stroke-width="1.5"/>
<line x1="1502.3" y1="1915.13" x2="1592.9" y2="1915.13" stroke="#d3d3d3" stroke-width="1.5"/>
<line x1="1502.3" y1="1939.94" x2="1592.9" y2="1939.94" stroke="#d3d3d3" stroke-width="1.5"/>
<line x1="1502.3" y1="1964.75" x2="1592.9" y2="1964.75" stroke="#d3d3d3" stroke-width="1.5"/>
<line x1="1502.3" y1="1989.56" x2="1592.9" y2="1989.56" stroke="#d3d3d3" stroke-width="1.5"/>
<line x1="1502.3" y1="2014.36" x2="1592.9" y2="2014.36" stroke="#d3d3d3" stroke-width="1.5"/>
<line x1="1502.3" y1="2039.17" x2="1592.9" y2="2039.17" stroke="#d3d3d3" stroke-width="1.5"/>
<line x1="1502.3" y1="2063.98" x2="1592.9" y2="2063.98" stroke="#d3d3d3" stroke-width="1.5"/>
<line x1="1502.3" y1="2088.78" x2="1592.9" y2="2088.78" stroke="#d3d3d3" stroke-width="1.5"/>
<line x1="1502.3" y1="2113.59" x2="1592.9" y2="2113.59" stroke="#d3d3d3" stroke-width="1.5"/>
<line x1="1502.3" y1="2138.4" x2="1592.9" y2="2138.4" stroke="#d3d3d3" stroke-width="1.5"/>
<line x1="1532.3" y1="1779.2" x2="1532.3" y2="2151.7" stroke="#d3d3d3" stroke-width="1.5"/>
<line x1="1562.5" y1="1779.2" x2="1562.5" y2="2151.7" stroke="#d3d3d3" stroke-width="1.5"/>
<circle cx="1513.2" cy="1791.1" r="5" fill="#d82c3a"/>
<circle cx="1521.9" cy="1815.91" r="7.6" fill="#cf2d40"/>
<circle cx="1531.5" cy="1840.71" r="10.9" fill="#cb2b45"/>
<circle cx="1525" cy="1865.52" r="7.2" fill="#9c3088"/>
<circle cx="1530.6" cy="1890.33" r="7.6" fill="#6f40a0"/>
<circle cx="1526" cy="1915.13" r="6.7" fill="#6c40a0"/>
<circle cx="1524.7" cy="1939.94" r="5.9" fill="#7040a5"/>
<circle cx="1527.8" cy="1964.75" r="5.9" fill="#4a52a0"/>
<circle cx="1531.5" cy="1989.56" r="8.3" fill="#4a52a0"/>
<circle cx="1448.8" cy="2014.36" r="3.5" fill="#e02b2b"/>
<circle cx="1439.7" cy="2039.17" r="9.8" fill="#e02b2b"/>
<circle cx="1420.7" cy="2063.98" r="9.1" fill="#e02b2b"/>
<circle cx="1411.8" cy="2088.78" r="11.1" fill="#902b80"/>
<circle cx="1409.9" cy="2113.59" r="10.4" fill="#902b90"/>
<circle cx="1424.2" cy="2138.4" r="4.4" fill="#6a40a8"/>
<rect x="1376.3" y="1754.6" width="90.6" height="24.6" fill="#d2d2d2" stroke="#000" stroke-width="1.5"/>
<rect x="1376.3" y="1779.2" width="90.6" height="372.5" fill="none" stroke="#000" stroke-width="1.6"/>
<text x="1421.6" y="1771.9" font-size="16.4" text-anchor="middle" fill="#111" stroke="#111" stroke-width="0.3">Activated</text>
<line x1="1376.3" y1="2151.7" x2="1376.3" y2="2157.9" stroke="#000" stroke-width="1.5"/>
<text x="1376.3" y="2171.5" font-size="13.3" text-anchor="middle" stroke="#000" stroke-width="0.3">1</text>
<line x1="1421.6" y1="2151.7" x2="1421.6" y2="2157.9" stroke="#000" stroke-width="1.5"/>
<text x="1421.6" y="2171.5" font-size="13.3" text-anchor="middle" stroke="#000" stroke-width="0.3">2</text>
<line x1="1466.9" y1="2151.7" x2="1466.9" y2="2157.9" stroke="#000" stroke-width="1.5"/>
<text x="1466.9" y="2171.5" font-size="13.3" text-anchor="middle" stroke="#000" stroke-width="0.3">3</text>
<text x="1421.6" y="2193.3" font-size="15.8" text-anchor="middle" font-weight="bold" stroke="#000" stroke-width="0.3">NES</text>
<rect x="1502.3" y="1754.6" width="90.6" height="24.6" fill="#d2d2d2" stroke="#000" stroke-width="1.5"/>
<rect x="1502.3" y="1779.2" width="90.6" height="372.5" fill="none" stroke="#000" stroke-width="1.6"/>
<text x="1547.6" y="1771.9" font-size="16.4" text-anchor="middle" fill="#111" stroke="#111" stroke-width="0.3">Suppressed</text>
<line x1="1502.3" y1="2151.7" x2="1502.3" y2="2157.9" stroke="#000" stroke-width="1.5"/>
<text x="1502.3" y="2171.5" font-size="13.3" text-anchor="middle" stroke="#000" stroke-width="0.3">-1.8</text>
<line x1="1532.3" y1="2151.7" x2="1532.3" y2="2157.9" stroke="#000" stroke-width="1.5"/>
<text x="1532.3" y="2171.5" font-size="13.3" text-anchor="middle" stroke="#000" stroke-width="0.3">-1.6</text>
<line x1="1562.5" y1="2151.7" x2="1562.5" y2="2157.9" stroke="#000" stroke-width="1.5"/>
<text x="1562.5" y="2171.5" font-size="13.3" text-anchor="middle" stroke="#000" stroke-width="0.3">-1.4</text>
<line x1="1592.9" y1="2151.7" x2="1592.9" y2="2157.9" stroke="#000" stroke-width="1.5"/>
<text x="1592.9" y="2171.5" font-size="13.3" text-anchor="middle" stroke="#000" stroke-width="0.3">-1.2</text>
<text x="1547.6" y="2193.3" font-size="15.8" text-anchor="middle" font-weight="bold" stroke="#000" stroke-width="0.3">NES</text>
<line x1="1369.1" y1="1791.1" x2="1376.3" y2="1791.1" stroke="#111" stroke-width="1.5"/>
<text x="1365.2" y="1795.92" font-size="13.96" text-anchor="end" stroke="#000" stroke-width="0.3">GOBP_DETECTION_OF_CHEMICAL_STIMULUS</text>
<line x1="1369.1" y1="1815.91" x2="1376.3" y2="1815.91" stroke="#111" stroke-width="1.5"/>
<text x="1365.2" y="1820.72" font-size="13.96" text-anchor="end" stroke="#000" stroke-width="0.3">GOBP_MIRNA_METABOLIC_PROCESS</text>
<line x1="1369.1" y1="1840.71" x2="1376.3" y2="1840.71" stroke="#111" stroke-width="1.5"/>
<text x="1365.2" y="1845.53" font-size="13.96" text-anchor="end" stroke="#000" stroke-width="0.3">GOBP_JNK_CASCADE</text>
<line x1="1369.1" y1="1865.52" x2="1376.3" y2="1865.52" stroke="#111" stroke-width="1.5"/>
<text x="1365.2" y="1870.34" font-size="13.96" text-anchor="end" stroke="#000" stroke-width="0.3">GOBP_REGULATION_OF_NCRNA_TRANSCRIPTION</text>
<line x1="1369.1" y1="1890.33" x2="1376.3" y2="1890.33" stroke="#111" stroke-width="1.5"/>
<text x="1365.2" y="1895.14" font-size="13.96" text-anchor="end" stroke="#000" stroke-width="0.3">GOBP_ADULT_LOCOMOTORY_BEHAVIOR</text>
<line x1="1369.1" y1="1915.13" x2="1376.3" y2="1915.13" stroke="#111" stroke-width="1.5"/>
<text x="1365.2" y="1919.95" font-size="13.96" text-anchor="end" stroke="#000" stroke-width="0.3">GOBP_REGULATION_OF_MIRNA_METABOLIC_PROCESS</text>
<line x1="1369.1" y1="1939.94" x2="1376.3" y2="1939.94" stroke="#111" stroke-width="1.5"/>
<text x="1365.2" y="1944.76" font-size="13.96" text-anchor="end" stroke="#000" stroke-width="0.3">GOBP_MIRNA_TRANSCRIPTION</text>
<line x1="1369.1" y1="1964.75" x2="1376.3" y2="1964.75" stroke="#111" stroke-width="1.5"/>
<text x="1365.2" y="1969.57" font-size="13.96" text-anchor="end" stroke="#000" stroke-width="0.3">GOBP_NEGATIVE_REGULATION_OF_LEUKOCYTE_MEDIATED_IMMUNITY</text>
<line x1="1369.1" y1="1989.56" x2="1376.3" y2="1989.56" stroke="#111" stroke-width="1.5"/>
<text x="1365.2" y="1994.37" font-size="13.96" text-anchor="end" stroke="#000" stroke-width="0.3">GOBP_POST_EMBRYONIC_DEVELOPMENT</text>
<line x1="1369.1" y1="2014.36" x2="1376.3" y2="2014.36" stroke="#111" stroke-width="1.5"/>
<text x="1365.2" y="2019.18" font-size="13.96" text-anchor="end" stroke="#000" stroke-width="0.3">GOBP_TRANSLATION_AT_SYNAPSE</text>
<line x1="1369.1" y1="2039.17" x2="1376.3" y2="2039.17" stroke="#111" stroke-width="1.5"/>
<text x="1365.2" y="2043.99" font-size="13.96" text-anchor="end" stroke="#000" stroke-width="0.3">GOBP_CYTOPLASMIC_TRANSLATION</text>
<line x1="1369.1" y1="2063.98" x2="1376.3" y2="2063.98" stroke="#111" stroke-width="1.5"/>
<text x="1365.2" y="2068.79" font-size="13.96" text-anchor="end" stroke="#000" stroke-width="0.3">GOBP_OXIDATIVE_PHOSPHORYLATION</text>
<line x1="1369.1" y1="2088.78" x2="1376.3" y2="2088.78" stroke="#111" stroke-width="1.5"/>
<text x="1365.2" y="2093.6" font-size="13.96" text-anchor="end" stroke="#000" stroke-width="0.3">GOBP_AEROBIC_RESPIRATION</text>
<line x1="1369.1" y1="2113.59" x2="1376.3" y2="2113.59" stroke="#111" stroke-width="1.5"/>
<text x="1365.2" y="2118.41" font-size="13.96" text-anchor="end" fill="#e0262b" stroke="#e0262b" stroke-width="0.3">GOBP_KERATINOCYTE_DIFFERENTIATION</text>
<line x1="1369.1" y1="2138.4" x2="1376.3" y2="2138.4" stroke="#111" stroke-width="1.5"/>
<text x="1365.2" y="2143.21" font-size="13.96" text-anchor="end" fill="#e0262b" stroke="#e0262b" stroke-width="0.3">GOBP_KERATINIZATION</text>
<text x="1609.8" y="1836.4" font-size="12.9" stroke="#000" stroke-width="0.3">Padjust</text>
<defs><linearGradient id="cbH" x1="0" y1="0" x2="0" y2="1"><stop offset="0" stop-color="#4957a4"/><stop offset="0.5" stop-color="#a03a72"/><stop offset="1" stop-color="#e32b2b"/></linearGradient></defs>
<rect x="1615" y="1846.6" width="21.6" height="108.4" fill="url(#cbH)"/>
<line x1="1636.6" y1="1847.1" x2="1639.8" y2="1847.1" stroke="#333" stroke-width="0.9"/>
<text x="1643.6" y="1851.62" font-size="12.8" stroke="#000" stroke-width="0.3">0.00200</text>
<line x1="1636.6" y1="1874.5" x2="1639.8" y2="1874.5" stroke="#333" stroke-width="0.9"/>
<text x="1643.6" y="1879.02" font-size="12.8" stroke="#000" stroke-width="0.3">0.00150</text>
<line x1="1636.6" y1="1901.5" x2="1639.8" y2="1901.5" stroke="#333" stroke-width="0.9"/>
<text x="1643.6" y="1906.02" font-size="12.8" stroke="#000" stroke-width="0.3">0.00100</text>
<line x1="1636.6" y1="1928.2" x2="1639.8" y2="1928.2" stroke="#333" stroke-width="0.9"/>
<text x="1643.6" y="1932.72" font-size="12.8" stroke="#000" stroke-width="0.3">0.000500</text>
<line x1="1636.6" y1="1955" x2="1639.8" y2="1955" stroke="#333" stroke-width="0.9"/>
<text x="1643.6" y="1959.52" font-size="12.8" stroke="#000" stroke-width="0.3">0.00</text>
<text x="1609.8" y="1999.3" font-size="12.9" stroke="#000" stroke-width="0.3">Number</text>
<circle cx="1615" cy="2015.3" r="3.7" fill="#000"/>
<text x="1633.8" y="2019.82" font-size="12.7" stroke="#000" stroke-width="0.3">48</text>
<circle cx="1615" cy="2035.7" r="6.5" fill="#000"/>
<text x="1633.8" y="2040.22" font-size="12.7" stroke="#000" stroke-width="0.3">89</text>
<circle cx="1615" cy="2056.6" r="8.5" fill="#000"/>
<text x="1633.8" y="2061.11" font-size="12.7" stroke="#000" stroke-width="0.3">129</text>
<circle cx="1615" cy="2081" r="10" fill="#000"/>
<text x="1633.8" y="2085.51" font-size="12.7" stroke="#000" stroke-width="0.3">171</text>
</svg>
</body></html>
